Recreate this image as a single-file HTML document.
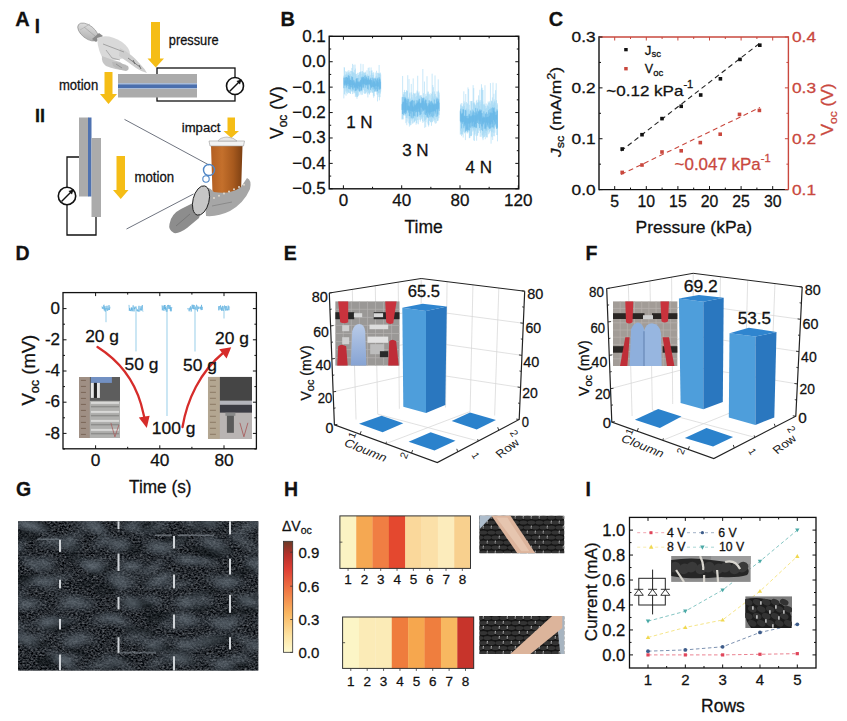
<!DOCTYPE html>
<html><head><meta charset="utf-8"><style>
html,body{margin:0;padding:0;background:#fff;}
body{width:847px;height:721px;overflow:hidden;}
svg text{font-family:"Liberation Sans", sans-serif;}
</style></head><body>
<svg width="847" height="721" viewBox="0 0 847 721" style="display:block;font-family:'Liberation Sans', sans-serif">
<rect width="847" height="721" fill="#fff"/>
<text x="15.3" y="25.6" font-size="20" font-weight="bold" fill="#111" stroke="#111" stroke-width="0.28">A</text>
<text x="34.8" y="33.2" font-size="20.5" font-weight="bold" textLength="5.2" lengthAdjust="spacingAndGlyphs" fill="#111" stroke="#111" stroke-width="0.28">I</text>
<text x="35" y="122" font-size="18" font-weight="bold" fill="#111" stroke="#111" stroke-width="0.28">II</text>
<polygon points="151.00,22.00 160.00,22.00 160.00,58.50 164.00,58.50 155.75,67.50 147.50,58.50 151.00,58.50" fill="#f5bd16" stroke="none" stroke-width="1"/>
<text x="168.8" y="44.8" font-size="14" textLength="49.8" lengthAdjust="spacingAndGlyphs" fill="#111" stroke="#111" stroke-width="0.28">pressure</text>
<polygon points="104.50,72.00 112.50,72.00 112.50,94.00 117.00,94.00 108.50,104.00 100.00,94.00 104.50,94.00" fill="#f5bd16" stroke="none" stroke-width="1"/>
<text x="58.9" y="89.7" font-size="14" textLength="39.3" lengthAdjust="spacingAndGlyphs" fill="#111" stroke="#111" stroke-width="0.28">motion</text>
<rect x="157" y="68" width="78" height="33" fill="none" stroke="#111" stroke-width="1.3"/>
<rect x="118.00" y="74.00" width="79.00" height="23.50" fill="#ababab"/>
<rect x="118.00" y="83.00" width="79.00" height="6.00" fill="#a9bcd8"/>
<rect x="118.00" y="84.50" width="79.00" height="3.50" fill="#4a6fae"/>
<circle cx="235" cy="86" r="8.5" fill="#fff" stroke="#111" stroke-width="1.6"/>
<line x1="229.50" y1="91.50" x2="240.00" y2="81.00" stroke="#111" stroke-width="1.5"/>
<polygon points="241.50,79.50 236.50,81.00 240.00,84.50" fill="#111" stroke="none" stroke-width="1"/>
<defs><linearGradient id="h1g" x1="0" y1="0" x2="1" y2="1"><stop offset="0" stop-color="#e6e6e6"/><stop offset="1" stop-color="#a9a9a9"/></linearGradient></defs>
<g stroke="#858585" stroke-width="0.6" stroke-linejoin="round">
<ellipse cx="88" cy="32" rx="12" ry="6.5" transform="rotate(38 88 32)" fill="url(#h1g)"/>
<polygon points="92.00,39.00 99.00,33.00 103.00,36.00 96.00,42.00" fill="#8a8a8a" stroke="none" stroke-width="1"/>
<path d="M97,38 Q108,33 122,42 Q130,48 130,54 L124,58 Q114,62 104,60 Q98,52 97,38 Z" fill="#d9d9d9" stroke="none" stroke-width="1"/>
<path d="M102,56 Q112,60 120,62 Q126,66 124,70 Q116,70 106,66 Q101,62 102,56 Z" fill="#c6c6c6" stroke="none" stroke-width="1"/>
<path d="M112,62 Q120,62 128,66 Q130,70 126,71 Q118,70 113,66 Z" fill="#b9b9b9" stroke="none" stroke-width="1"/>
<path d="M120,48 Q132,54 140,64 Q145,69 147,73 Q142,72 136,68 Q128,62 119,56 Z" fill="#cdcdcd" stroke="none" stroke-width="1"/>
</g>
<polyline points="103.00,44.00 124.00,52.00" fill="none" stroke="#8a8a8a" stroke-width="0.7"/>
<polyline points="128.00,58.00 140.00,67.00" fill="none" stroke="#666" stroke-width="0.7"/>
<polyline points="84.00,27.00 95.00,36.00" fill="none" stroke="#9a9a9a" stroke-width="0.6"/>
<polyline points="106.00,50.00 112.00,58.00 120.00,60.00" fill="none" stroke="#8a8a8a" stroke-width="0.6"/>
<polyline points="133.00,60.00 135.00,64.00" fill="none" stroke="#555" stroke-width="0.8"/>
<polyline points="139.00,65.00 141.00,69.00" fill="none" stroke="#555" stroke-width="0.8"/>
<polyline points="116.00,64.00 122.00,68.00" fill="none" stroke="#7a7a7a" stroke-width="0.6"/>
<polyline points="80.00,30.00 90.00,24.00" fill="none" stroke="#aaaaaa" stroke-width="0.6"/>
<rect x="79.00" y="117.50" width="9.50" height="79.00" fill="#ababab"/>
<rect x="88.00" y="117.50" width="3.50" height="79.00" fill="#4f72b0"/>
<rect x="91.50" y="138.00" width="9.50" height="79.00" fill="#ababab"/>
<polyline points="79.00,157.00 67.00,157.00 67.00,235.00 96.00,235.00 96.00,217.00" fill="none" stroke="#111" stroke-width="1.3"/>
<circle cx="67" cy="196" r="8.7" fill="#fff" stroke="#111" stroke-width="1.6"/>
<line x1="61.50" y1="201.50" x2="72.00" y2="191.00" stroke="#111" stroke-width="1.5"/>
<polygon points="73.50,189.50 68.50,191.00 72.00,194.50" fill="#111" stroke="none" stroke-width="1"/>
<polygon points="116.50,156.00 125.00,156.00 125.00,190.00 128.50,190.00 120.75,199.00 113.00,190.00 116.50,190.00" fill="#f5bd16" stroke="none" stroke-width="1"/>
<text x="134.5" y="181.7" font-size="13.8" textLength="39.6" lengthAdjust="spacingAndGlyphs" fill="#111" stroke="#111" stroke-width="0.28">motion</text>
<polygon points="227.50,117.50 235.00,117.50 235.00,131.00 239.00,131.00 231.25,138.00 223.50,131.00 227.50,131.00" fill="#f5bd16" stroke="none" stroke-width="1"/>
<text x="181.8" y="131.5" font-size="12.5" textLength="38.6" lengthAdjust="spacingAndGlyphs" fill="#111" stroke="#111" stroke-width="0.28">impact</text>
<line x1="124.50" y1="119.40" x2="209.00" y2="165.00" stroke="#4a5060" stroke-width="0.8"/>
<line x1="126.50" y1="229.00" x2="193.50" y2="194.00" stroke="#4a5060" stroke-width="0.8"/>
<defs><linearGradient id="cupg" x1="0" x2="1" y1="0" y2="0"><stop offset="0" stop-color="#b35f22"/><stop offset="0.35" stop-color="#c4702c"/><stop offset="0.7" stop-color="#a85a1e"/><stop offset="1" stop-color="#7d4013"/></linearGradient></defs>
<polygon points="211.00,145.50 242.50,145.50 241.00,193.50 212.50,193.50" fill="url(#cupg)" stroke="none" stroke-width="1"/>
<polygon points="209.00,141.00 244.50,141.00 243.50,146.00 210.00,146.00" fill="#f2f2f2" stroke="#9a9a9a" stroke-width="0.6"/>
<path d="M218,141 Q220,137.5 227,137 Q234,137.5 237,141 Z" fill="#e8e8e8" stroke="#a0a0a0" stroke-width="0.6"/>
<g stroke="#3a3a3a" stroke-width="0.7" stroke-linejoin="round">
<path d="M169.5,224 Q171,214 181,209 L195,202 Q203,209 199,218 L187,228 Q179,234 174,233 Q168,230 169.5,224 Z" fill="#8d8d8d" stroke="none" stroke-width="1"/>
<path d="M204,186 Q210,188 214,192 Q230,195 241,187 L247,178 Q252,180 250,189 Q244,203 230,211 Q218,217 206,216 Z" fill="#a6a6a6" stroke="none" stroke-width="1"/>
</g>
<ellipse cx="201" cy="200.5" rx="8" ry="15" transform="rotate(14 201 200.5)" fill="#c6c6c6" stroke="#1e1e1e" stroke-width="0.9"/>
<circle cx="214.0" cy="198.0" r="1" fill="#e0d8cc"/>
<circle cx="219.0" cy="195.8" r="1" fill="#e0d8cc"/>
<circle cx="224.0" cy="193.6" r="1" fill="#e0d8cc"/>
<circle cx="229.0" cy="191.4" r="1" fill="#e0d8cc"/>
<circle cx="234.0" cy="189.2" r="1" fill="#e0d8cc"/>
<circle cx="239.0" cy="187.0" r="1" fill="#e0d8cc"/>
<circle cx="244.0" cy="184.8" r="1" fill="#e0d8cc"/>
<polyline points="176.00,226.00 190.00,214.00" fill="none" stroke="#6a6a6a" stroke-width="0.6"/>
<polyline points="212.00,206.00 232.00,202.00" fill="none" stroke="#777" stroke-width="0.6"/>
<circle cx="209" cy="170" r="5.5" fill="none" stroke="#4f86c6" stroke-width="1.4"/>
<circle cx="206" cy="179" r="3.2" fill="none" stroke="#4f86c6" stroke-width="1.1"/>
<text x="280.5" y="25.7" font-size="20" font-weight="bold" fill="#111" stroke="#111" stroke-width="0.28">B</text>
<path d="M343.84,75.69V98.41M344.16,67.10V88.19M344.48,67.70V93.93M344.80,75.97V94.68M345.12,74.53V87.80M345.44,75.19V88.20M345.76,71.14V91.54M346.08,74.34V95.66M346.40,71.95V89.34M346.72,73.57V92.85M347.04,75.07V90.78M347.36,71.40V94.14M347.69,73.70V87.92M348.01,76.52V92.49M348.33,70.28V91.98M348.65,72.52V93.09M348.97,73.36V87.32M349.29,72.13V93.07M349.61,74.16V87.18M349.93,70.40V92.85M350.25,75.40V93.73M350.57,74.02V93.94M350.89,71.06V90.58M351.21,71.05V88.75M351.53,76.08V91.40M351.85,67.94V90.70M352.17,71.02V91.95M352.49,63.87V94.10M352.82,72.51V91.42M353.14,71.82V90.16M353.46,72.60V89.90M353.78,64.76V93.51M354.10,77.22V91.79M354.42,72.90V92.69M354.74,70.04V91.32M355.06,64.59V93.40M355.38,68.56V96.87M355.70,74.48V92.39M356.02,73.99V95.54M356.34,78.14V97.13M356.66,73.82V95.34M356.98,75.99V98.79M357.30,77.92V96.97M357.63,72.84V96.94M357.95,78.16V91.24M358.27,75.09V95.99M358.59,74.80V90.28M358.91,72.79V95.16M359.23,78.15V91.94M359.55,72.11V92.33M359.87,73.83V90.15M360.19,72.34V90.16M360.51,71.63V91.53M360.83,63.71V93.61M361.15,71.66V95.11M361.47,76.89V90.62M361.79,73.92V91.39M362.11,71.33V91.52M362.43,71.21V94.79M362.76,73.83V87.91M363.08,64.14V88.90M363.40,72.09V89.91M363.72,73.22V88.13M364.04,75.39V92.98M364.36,72.94V93.92M364.68,72.47V90.83M365.00,73.58V90.50M365.32,71.67V93.90M365.64,72.67V93.09M365.96,75.92V87.33M366.28,76.27V92.64M366.60,75.67V91.72M366.92,70.25V88.45M367.24,73.92V94.25M367.57,75.75V90.77M367.89,75.57V97.43M368.21,67.90V91.76M368.53,76.76V93.09M368.85,76.58V87.62M369.17,67.43V94.27M369.49,75.71V94.47M369.81,71.07V92.90M370.13,77.41V92.66M370.45,77.49V88.58M370.77,74.90V92.38M371.09,67.43V90.20M371.41,70.57V90.91M371.73,73.11V92.48M372.05,70.45V89.02M372.38,74.97V92.60M372.70,78.44V92.42M373.02,73.13V93.11M373.34,72.14V95.66M373.66,74.83V97.71M373.98,79.14V91.55M374.30,79.12V96.21M374.62,77.70V91.96M374.94,78.66V91.77M375.26,72.59V91.65M375.58,77.55V89.83M375.90,76.30V91.31M376.22,79.77V90.45M376.54,70.77V91.46M376.86,75.73V94.57M377.18,73.03V92.00M377.51,78.38V101.40M377.83,72.72V94.83M378.15,78.22V92.99M378.47,73.11V93.45M378.79,73.87V97.12M379.11,64.96V92.95M379.43,73.97V100.35M379.75,72.89V92.45M380.07,77.82V97.17M380.39,72.70V93.64M380.71,74.30V91.53" fill="none" stroke="#a3d8f5" stroke-width="0.6"/>
<path d="M343.84,77.55V88.18M344.27,78.02V84.60M344.71,80.59V85.48M345.15,77.05V85.60M345.59,77.85V83.60M346.02,80.54V85.05M346.46,76.99V87.55M346.90,76.87V84.96M347.34,77.69V85.97M347.77,77.94V83.78M348.21,75.55V84.29M348.65,75.11V88.91M349.08,80.56V86.01M349.52,76.16V89.28M349.96,78.37V85.05M350.40,79.87V89.42M350.83,80.04V87.34M351.27,80.63V87.18M351.71,76.30V84.95M352.14,77.26V87.52M352.58,77.12V88.96M353.02,81.02V90.40M353.46,79.81V85.18M353.89,82.73V88.30M354.33,80.42V87.32M354.77,82.34V87.76M355.21,81.51V91.00M355.64,83.39V90.57M356.08,78.80V86.74M356.52,78.37V90.50M356.95,78.54V87.89M357.39,81.51V88.53M357.83,77.96V89.72M358.27,81.47V88.64M358.70,81.84V86.18M359.14,82.68V90.94M359.58,81.50V91.41M360.02,81.52V87.06M360.45,79.85V86.39M360.89,80.41V90.95M361.33,77.32V89.82M361.76,78.51V90.23M362.20,76.55V87.73M362.64,77.57V84.40M363.08,77.28V86.69M363.51,76.98V87.70M363.95,79.41V83.81M364.39,75.67V84.15M364.83,78.09V85.37M365.26,78.98V87.74M365.70,75.11V84.69M366.14,76.88V84.92M366.57,77.43V85.50M367.01,79.66V84.09M367.45,79.50V88.80M367.89,77.99V84.63M368.32,75.83V89.60M368.76,78.54V84.42M369.20,80.17V84.30M369.63,79.53V84.51M370.07,80.32V85.76M370.51,78.69V89.90M370.95,77.91V87.18M371.38,80.02V88.10M371.82,80.45V87.16M372.26,82.43V86.99M372.70,77.54V86.24M373.13,80.32V89.55M373.57,78.46V87.13M374.01,81.90V87.45M374.44,81.27V88.78M374.88,78.23V91.35M375.32,78.71V86.23M375.76,83.41V90.50M376.19,78.53V88.99M376.63,80.19V85.97M377.07,81.18V91.63M377.51,78.61V91.06M377.94,77.63V87.11M378.38,82.28V86.35M378.82,79.76V89.43M379.25,77.20V89.46M379.69,78.62V89.51M380.13,79.46V87.95M380.57,81.58V89.16" fill="none" stroke="#5eb2e6" stroke-width="0.55"/>
<path d="M401.99,96.83V119.43M402.31,97.86V119.29M402.63,75.98V118.72M402.95,96.85V112.86M403.27,94.43V119.35M403.59,94.31V115.32M403.92,92.02V113.06M404.24,92.39V115.53M404.56,89.91V113.33M404.88,95.16V115.11M405.20,92.02V115.29M405.52,96.51V115.68M405.84,92.06V123.18M406.16,98.06V117.86M406.48,90.44V117.77M406.80,90.34V125.19M407.12,91.28V121.57M407.44,91.10V116.14M407.76,75.23V118.28M408.08,97.57V114.61M408.40,97.53V116.01M408.73,99.16V123.29M409.05,79.14V118.86M409.37,99.59V126.58M409.69,93.40V124.40M410.01,92.41V123.07M410.33,98.45V125.32M410.65,99.32V118.86M410.97,102.03V125.06M411.29,83.95V120.60M411.61,92.41V118.35M411.93,97.14V117.67M412.25,94.63V123.70M412.57,98.81V119.48M412.89,101.31V123.44M413.21,78.43V119.02M413.53,92.97V118.32M413.86,100.92V122.78M414.18,99.41V121.76M414.50,94.04V122.10M414.82,92.97V120.97M415.14,93.88V117.57M415.46,99.70V120.80M415.78,97.06V119.92M416.10,92.69V124.70M416.42,95.93V122.99M416.74,100.20V115.45M417.06,90.51V123.57M417.38,91.43V116.56M417.70,75.74V120.08M418.02,96.20V115.68M418.34,93.70V124.28M418.67,92.76V116.50M418.99,91.44V113.83M419.31,95.41V119.61M419.63,97.69V117.17M419.95,96.13V116.09M420.27,95.56V121.67M420.59,95.45V120.23M420.91,99.08V117.09M421.23,94.98V117.46M421.55,98.99V119.31M421.87,98.26V116.58M422.19,97.72V118.16M422.51,98.16V121.12M422.83,69.02V122.94M423.15,98.90V117.03M423.48,93.22V114.82M423.80,97.41V121.95M424.12,97.94V117.52M424.44,81.56V120.99M424.76,99.69V127.96M425.08,99.07V119.51M425.40,97.31V120.01M425.72,93.87V127.00M426.04,95.77V122.20M426.36,96.25V119.39M426.68,99.79V115.66M427.00,76.18V115.72M427.32,93.46V115.58M427.64,97.69V116.56M427.96,91.50V123.63M428.28,91.77V125.19M428.61,100.21V126.52M428.93,94.26V124.77M429.25,93.73V120.82M429.57,99.99V120.91M429.89,101.78V117.43M430.21,95.23V117.52M430.53,101.00V122.30M430.85,93.24V121.71M431.17,101.06V122.18M431.49,93.92V125.82M431.81,98.32V120.15M432.13,73.70V118.13M432.45,91.76V122.22M432.77,84.98V121.62M433.09,96.33V116.55M433.42,87.23V118.68M433.74,97.64V120.87M434.06,99.04V119.60M434.38,91.40V116.12M434.70,94.28V122.42M435.02,75.41V120.00M435.34,93.87V123.67M435.66,97.76V114.37M435.98,95.99V114.36M436.30,99.86V123.22M436.62,97.80V118.64M436.94,91.39V116.49M437.26,99.08V121.20M437.58,99.40V120.70M437.90,91.79V115.30M438.22,79.37V120.57M438.55,90.58V115.56M438.87,94.72V118.14M439.19,92.58V114.98" fill="none" stroke="#a3d8f5" stroke-width="0.6"/>
<path d="M401.99,104.20V109.94M402.43,102.45V114.00M402.87,97.00V114.00M403.30,101.75V115.15M403.74,101.78V109.74M404.18,97.42V113.15M404.61,99.18V113.56M405.05,97.12V112.03M405.49,98.36V114.14M405.93,98.41V112.11M406.36,99.63V113.44M406.80,103.04V110.61M407.24,100.85V109.69M407.68,98.87V110.49M408.11,105.87V110.39M408.55,99.18V112.64M408.99,105.42V110.16M409.42,106.38V116.00M409.86,102.01V116.21M410.30,101.37V110.98M410.74,102.60V113.63M411.17,100.95V117.60M411.61,100.44V111.24M412.05,100.64V118.48M412.49,100.04V111.59M412.92,105.65V111.59M413.36,106.88V117.77M413.80,100.81V115.84M414.23,100.57V115.68M414.67,104.52V110.98M415.11,105.79V116.39M415.55,104.76V112.46M415.98,102.87V109.70M416.42,103.92V111.70M416.86,100.18V112.20M417.30,102.98V117.05M417.73,101.36V115.87M418.17,100.27V108.68M418.61,101.66V111.94M419.04,98.73V111.01M419.48,99.11V112.49M419.92,102.73V115.14M420.36,103.61V114.69M420.79,102.95V107.67M421.23,102.69V114.13M421.67,96.76V107.70M422.10,100.54V111.90M422.54,98.28V109.37M422.98,100.71V110.86M423.42,98.27V110.27M423.85,97.58V110.63M424.29,103.35V114.36M424.73,101.39V109.55M425.17,100.55V109.52M425.60,99.61V114.99M426.04,99.85V114.63M426.48,103.38V112.93M426.91,103.30V117.31M427.35,105.87V117.50M427.79,106.52V111.88M428.23,104.87V117.96M428.66,103.19V113.66M429.10,100.37V112.53M429.54,103.69V115.15M429.98,101.49V117.09M430.41,102.34V113.66M430.85,104.77V112.00M431.29,100.76V116.26M431.72,101.45V111.98M432.16,103.66V117.01M432.60,102.44V111.35M433.04,103.17V117.65M433.47,104.69V111.55M433.91,104.00V115.70M434.35,99.63V110.81M434.79,104.67V111.38M435.22,103.13V113.49M435.66,104.18V111.61M436.10,103.74V116.90M436.53,99.40V109.26M436.97,97.43V109.07M437.41,101.69V116.42M437.85,98.40V114.14M438.28,101.05V109.46M438.72,99.41V108.62M439.16,102.67V110.97" fill="none" stroke="#5eb2e6" stroke-width="0.55"/>
<path d="M460.29,109.86V134.55M460.61,104.66V130.93M460.93,103.62V134.25M461.25,105.75V134.49M461.57,108.21V136.14M461.89,102.98V134.01M462.22,105.96V133.59M462.54,106.52V134.73M462.86,108.63V131.95M463.18,106.97V137.54M463.50,104.33V131.51M463.82,91.32V129.06M464.14,101.36V128.52M464.46,106.06V133.36M464.78,102.89V132.32M465.10,110.08V132.22M465.42,111.18V140.09M465.74,94.01V132.72M466.06,108.69V130.54M466.38,102.02V130.52M466.70,108.31V129.52M467.03,103.54V133.42M467.35,110.21V132.08M467.67,103.40V133.37M467.99,87.43V132.03M468.31,109.60V130.81M468.63,89.08V131.05M468.95,109.03V132.64M469.27,104.84V138.25M469.59,111.60V137.86M469.91,110.51V137.62M470.23,101.09V130.08M470.55,110.19V135.95M470.87,109.91V135.96M471.19,101.30V135.68M471.51,101.10V136.17M471.83,103.24V134.90M472.16,100.90V129.27M472.48,109.24V126.75M472.80,109.02V131.62M473.12,85.12V131.13M473.44,102.77V129.92M473.76,88.11V140.32M474.08,102.33V129.17M474.40,104.19V140.92M474.72,102.79V135.05M475.04,104.44V133.93M475.36,104.84V131.40M475.68,106.43V129.64M476.00,106.65V136.16M476.32,100.70V128.63M476.64,103.07V140.70M476.97,99.68V125.63M477.29,109.79V135.65M477.61,102.41V135.59M477.93,102.96V133.23M478.25,102.33V133.00M478.57,95.39V125.91M478.89,99.91V129.83M479.21,101.51V128.70M479.53,105.83V130.83M479.85,89.78V126.51M480.17,101.70V136.73M480.49,110.97V133.16M480.81,100.09V131.27M481.13,104.10V136.92M481.45,84.22V127.89M481.78,88.33V129.82M482.10,87.61V135.36M482.42,90.09V135.46M482.74,101.57V138.51M483.06,89.99V140.15M483.38,104.13V137.57M483.70,111.88V134.39M484.02,104.91V137.02M484.34,105.34V132.74M484.66,103.77V136.99M484.98,85.25V136.09M485.30,109.01V139.23M485.62,105.92V132.95M485.94,108.46V134.91M486.26,103.49V128.00M486.58,107.84V137.25M486.91,112.11V137.13M487.23,105.96V137.48M487.55,104.56V131.61M487.87,105.94V129.81M488.19,101.48V134.33M488.51,106.67V130.15M488.83,102.78V128.09M489.15,102.85V133.56M489.47,101.39V132.22M489.79,109.19V128.67M490.11,107.03V131.03M490.43,83.10V130.54M490.75,103.61V127.89M491.07,106.75V143.66M491.39,100.64V132.28M491.72,101.49V136.48M492.04,100.90V137.22M492.36,97.39V131.77M492.68,104.80V140.02M493.00,82.65V128.14M493.32,102.55V132.79M493.64,104.69V136.12M493.96,93.74V129.06M494.28,99.41V125.55M494.60,101.64V136.28M494.92,101.14V132.76M495.24,103.04V126.26M495.56,90.20V127.03M495.88,108.28V125.32M496.20,83.21V127.78M496.52,100.19V126.96M496.85,109.11V135.10M497.17,105.17V135.01M497.49,103.30V141.34" fill="none" stroke="#a3d8f5" stroke-width="0.6"/>
<path d="M460.29,111.22V121.16M460.73,108.68V122.50M461.17,112.82V121.64M461.60,114.24V128.38M462.04,113.91V122.20M462.48,112.80V123.86M462.91,109.49V122.14M463.35,109.07V121.82M463.79,110.00V127.86M464.23,116.06V126.23M464.66,115.59V124.32M465.10,116.47V125.49M465.54,109.83V131.65M465.98,110.49V123.17M466.41,116.01V130.84M466.85,118.03V129.26M467.29,116.00V131.66M467.72,118.34V129.98M468.16,115.48V123.56M468.60,118.29V130.05M469.04,113.66V123.76M469.47,114.28V130.52M469.91,115.96V127.09M470.35,116.45V123.17M470.79,110.81V128.02M471.22,115.51V121.77M471.66,116.22V126.58M472.10,112.49V123.17M472.53,114.75V126.17M472.97,110.24V127.86M473.41,111.11V121.86M473.85,115.38V126.74M474.28,112.29V126.48M474.72,115.19V127.20M475.16,112.69V127.40M475.60,108.09V124.02M476.03,115.34V127.96M476.47,111.39V127.60M476.91,113.24V121.10M477.34,108.46V122.90M477.78,114.29V123.05M478.22,110.73V119.69M478.66,111.53V124.05M479.09,111.75V121.13M479.53,110.24V127.97M479.97,109.16V123.46M480.40,110.71V124.26M480.84,110.59V121.43M481.28,109.78V130.17M481.72,113.24V126.19M482.15,113.15V126.63M482.59,117.71V130.92M483.03,116.15V123.62M483.47,117.34V124.42M483.90,111.33V122.44M484.34,117.61V128.91M484.78,116.82V122.48M485.21,113.38V127.83M485.65,114.03V129.02M486.09,117.59V130.57M486.53,112.25V122.64M486.96,117.24V126.81M487.40,113.86V124.64M487.84,116.95V125.68M488.28,116.64V127.27M488.71,110.23V122.83M489.15,112.48V128.33M489.59,115.76V128.86M490.02,108.90V124.46M490.46,113.11V128.53M490.90,111.99V124.08M491.34,108.21V127.50M491.77,113.19V122.20M492.21,113.05V123.88M492.65,107.35V127.25M493.09,107.82V127.23M493.52,108.29V119.88M493.96,111.06V128.44M494.40,107.46V121.66M494.83,111.86V125.33M495.27,112.40V124.40M495.71,115.01V123.54M496.15,111.38V119.72M496.58,114.65V128.90M497.02,109.35V128.75M497.46,110.76V127.72" fill="none" stroke="#5eb2e6" stroke-width="0.55"/>
<rect x="329.2" y="36.3" width="189.59999999999997" height="152.5" fill="none" stroke="#111" stroke-width="1.4"/>
<line x1="329.20" y1="36.30" x2="332.70" y2="36.30" stroke="#111" stroke-width="1"/>
<line x1="518.80" y1="36.30" x2="515.30" y2="36.30" stroke="#111" stroke-width="1"/>
<line x1="329.20" y1="49.01" x2="331.20" y2="49.01" stroke="#111" stroke-width="1"/>
<line x1="518.80" y1="49.01" x2="516.80" y2="49.01" stroke="#111" stroke-width="1"/>
<line x1="329.20" y1="61.72" x2="332.70" y2="61.72" stroke="#111" stroke-width="1"/>
<line x1="518.80" y1="61.72" x2="515.30" y2="61.72" stroke="#111" stroke-width="1"/>
<line x1="329.20" y1="74.43" x2="331.20" y2="74.43" stroke="#111" stroke-width="1"/>
<line x1="518.80" y1="74.43" x2="516.80" y2="74.43" stroke="#111" stroke-width="1"/>
<line x1="329.20" y1="87.13" x2="332.70" y2="87.13" stroke="#111" stroke-width="1"/>
<line x1="518.80" y1="87.13" x2="515.30" y2="87.13" stroke="#111" stroke-width="1"/>
<line x1="329.20" y1="99.84" x2="331.20" y2="99.84" stroke="#111" stroke-width="1"/>
<line x1="518.80" y1="99.84" x2="516.80" y2="99.84" stroke="#111" stroke-width="1"/>
<line x1="329.20" y1="112.55" x2="332.70" y2="112.55" stroke="#111" stroke-width="1"/>
<line x1="518.80" y1="112.55" x2="515.30" y2="112.55" stroke="#111" stroke-width="1"/>
<line x1="329.20" y1="125.26" x2="331.20" y2="125.26" stroke="#111" stroke-width="1"/>
<line x1="518.80" y1="125.26" x2="516.80" y2="125.26" stroke="#111" stroke-width="1"/>
<line x1="329.20" y1="137.97" x2="332.70" y2="137.97" stroke="#111" stroke-width="1"/>
<line x1="518.80" y1="137.97" x2="515.30" y2="137.97" stroke="#111" stroke-width="1"/>
<line x1="329.20" y1="150.68" x2="331.20" y2="150.68" stroke="#111" stroke-width="1"/>
<line x1="518.80" y1="150.68" x2="516.80" y2="150.68" stroke="#111" stroke-width="1"/>
<line x1="329.20" y1="163.38" x2="332.70" y2="163.38" stroke="#111" stroke-width="1"/>
<line x1="518.80" y1="163.38" x2="515.30" y2="163.38" stroke="#111" stroke-width="1"/>
<line x1="329.20" y1="176.09" x2="331.20" y2="176.09" stroke="#111" stroke-width="1"/>
<line x1="518.80" y1="176.09" x2="516.80" y2="176.09" stroke="#111" stroke-width="1"/>
<line x1="329.20" y1="188.80" x2="332.70" y2="188.80" stroke="#111" stroke-width="1"/>
<line x1="518.80" y1="188.80" x2="515.30" y2="188.80" stroke="#111" stroke-width="1"/>
<text x="325.8" y="41.8" font-size="17" text-anchor="end" fill="#111" stroke="#111" stroke-width="0.28">0.1</text>
<text x="325.8" y="67.21666666666667" font-size="17" text-anchor="end" fill="#111" stroke="#111" stroke-width="0.28">0.0</text>
<text x="325.8" y="92.63333333333333" font-size="17" text-anchor="end" fill="#111" stroke="#111" stroke-width="0.28">−0.1</text>
<text x="325.8" y="118.05000000000001" font-size="17" text-anchor="end" fill="#111" stroke="#111" stroke-width="0.28">−0.2</text>
<text x="325.8" y="143.46666666666667" font-size="17" text-anchor="end" fill="#111" stroke="#111" stroke-width="0.28">−0.3</text>
<text x="325.8" y="168.88333333333333" font-size="17" text-anchor="end" fill="#111" stroke="#111" stroke-width="0.28">−0.4</text>
<text x="325.8" y="194.3" font-size="17" text-anchor="end" fill="#111" stroke="#111" stroke-width="0.28">−0.5</text>
<line x1="343.40" y1="188.80" x2="343.40" y2="185.30" stroke="#111" stroke-width="1"/>
<line x1="343.40" y1="36.30" x2="343.40" y2="39.80" stroke="#111" stroke-width="1"/>
<line x1="372.55" y1="188.80" x2="372.55" y2="186.80" stroke="#111" stroke-width="1"/>
<line x1="372.55" y1="36.30" x2="372.55" y2="38.30" stroke="#111" stroke-width="1"/>
<line x1="401.70" y1="188.80" x2="401.70" y2="185.30" stroke="#111" stroke-width="1"/>
<line x1="401.70" y1="36.30" x2="401.70" y2="39.80" stroke="#111" stroke-width="1"/>
<line x1="430.85" y1="188.80" x2="430.85" y2="186.80" stroke="#111" stroke-width="1"/>
<line x1="430.85" y1="36.30" x2="430.85" y2="38.30" stroke="#111" stroke-width="1"/>
<line x1="460.00" y1="188.80" x2="460.00" y2="185.30" stroke="#111" stroke-width="1"/>
<line x1="460.00" y1="36.30" x2="460.00" y2="39.80" stroke="#111" stroke-width="1"/>
<line x1="489.15" y1="188.80" x2="489.15" y2="186.80" stroke="#111" stroke-width="1"/>
<line x1="489.15" y1="36.30" x2="489.15" y2="38.30" stroke="#111" stroke-width="1"/>
<line x1="518.30" y1="188.80" x2="518.30" y2="185.30" stroke="#111" stroke-width="1"/>
<line x1="518.30" y1="36.30" x2="518.30" y2="39.80" stroke="#111" stroke-width="1"/>
<text x="343.4" y="206.2" font-size="17" text-anchor="middle" fill="#111" stroke="#111" stroke-width="0.28">0</text>
<text x="401.7" y="206.2" font-size="17" text-anchor="middle" fill="#111" stroke="#111" stroke-width="0.28">40</text>
<text x="459.99999999999994" y="206.2" font-size="17" text-anchor="middle" fill="#111" stroke="#111" stroke-width="0.28">80</text>
<text x="518.3" y="206.2" font-size="17" text-anchor="middle" fill="#111" stroke="#111" stroke-width="0.28">120</text>
<text x="423.6" y="232.8" font-size="17.5" text-anchor="middle" fill="#111" stroke="#111" stroke-width="0.28">Time</text>
<text x="346.2" y="128.3" font-size="17" fill="#111" stroke="#111" stroke-width="0.28">1 N</text>
<text x="402.2" y="156.3" font-size="17" fill="#111" stroke="#111" stroke-width="0.28">3 N</text>
<text x="465.5" y="172.6" font-size="17" fill="#111" stroke="#111" stroke-width="0.28">4 N</text>
<text transform="translate(283.3 139) rotate(-90)" font-size="17.5" fill="#111" stroke="#111" stroke-width="0.28">V<tspan font-size="12" dy="4">oc</tspan><tspan dy="-4"> (V)</tspan></text>
<text x="548.8" y="26.3" font-size="20" font-weight="bold" fill="#111" stroke="#111" stroke-width="0.28">C</text>
<line x1="621.00" y1="151.00" x2="760.00" y2="43.00" stroke="#222" stroke-width="1.1" stroke-dasharray="5,3.5"/>
<line x1="621.00" y1="174.50" x2="760.00" y2="107.50" stroke="#c9483e" stroke-width="1.1" stroke-dasharray="5,3.5"/>
<rect x="620.40" y="147.20" width="3.60" height="3.60" fill="#111"/>
<rect x="640.20" y="132.90" width="3.60" height="3.60" fill="#111"/>
<rect x="660.20" y="116.80" width="3.60" height="3.60" fill="#111"/>
<rect x="679.40" y="104.50" width="3.60" height="3.60" fill="#111"/>
<rect x="698.90" y="93.20" width="3.60" height="3.60" fill="#111"/>
<rect x="718.60" y="77.00" width="3.60" height="3.60" fill="#111"/>
<rect x="738.20" y="57.60" width="3.60" height="3.60" fill="#111"/>
<rect x="758.00" y="43.40" width="3.60" height="3.60" fill="#111"/>
<rect x="620.40" y="170.60" width="3.60" height="3.60" fill="#c9483e"/>
<rect x="640.20" y="163.20" width="3.60" height="3.60" fill="#c9483e"/>
<rect x="660.20" y="150.20" width="3.60" height="3.60" fill="#c9483e"/>
<rect x="679.40" y="149.00" width="3.60" height="3.60" fill="#c9483e"/>
<rect x="698.50" y="140.80" width="3.60" height="3.60" fill="#c9483e"/>
<rect x="718.40" y="132.40" width="3.60" height="3.60" fill="#c9483e"/>
<rect x="737.70" y="112.60" width="3.60" height="3.60" fill="#c9483e"/>
<rect x="757.60" y="108.60" width="3.60" height="3.60" fill="#c9483e"/>
<line x1="599.00" y1="189.60" x2="788.40" y2="189.60" stroke="#111" stroke-width="1.4"/>
<line x1="599.00" y1="36.30" x2="599.00" y2="190.30" stroke="#111" stroke-width="1.4"/>
<line x1="599.00" y1="37.00" x2="788.40" y2="37.00" stroke="#c9483e" stroke-width="1.4"/>
<line x1="788.40" y1="36.30" x2="788.40" y2="189.60" stroke="#c9483e" stroke-width="1.4"/>
<line x1="599.00" y1="189.60" x2="602.50" y2="189.60" stroke="#111" stroke-width="1"/>
<line x1="788.40" y1="189.60" x2="784.90" y2="189.60" stroke="#c9483e" stroke-width="1"/>
<line x1="599.00" y1="164.17" x2="601.00" y2="164.17" stroke="#111" stroke-width="1"/>
<line x1="788.40" y1="164.17" x2="786.40" y2="164.17" stroke="#c9483e" stroke-width="1"/>
<line x1="599.00" y1="138.73" x2="602.50" y2="138.73" stroke="#111" stroke-width="1"/>
<line x1="788.40" y1="138.73" x2="784.90" y2="138.73" stroke="#c9483e" stroke-width="1"/>
<line x1="599.00" y1="113.30" x2="601.00" y2="113.30" stroke="#111" stroke-width="1"/>
<line x1="788.40" y1="113.30" x2="786.40" y2="113.30" stroke="#c9483e" stroke-width="1"/>
<line x1="599.00" y1="87.87" x2="602.50" y2="87.87" stroke="#111" stroke-width="1"/>
<line x1="788.40" y1="87.87" x2="784.90" y2="87.87" stroke="#c9483e" stroke-width="1"/>
<line x1="599.00" y1="62.43" x2="601.00" y2="62.43" stroke="#111" stroke-width="1"/>
<line x1="788.40" y1="62.43" x2="786.40" y2="62.43" stroke="#c9483e" stroke-width="1"/>
<line x1="599.00" y1="37.00" x2="602.50" y2="37.00" stroke="#111" stroke-width="1"/>
<line x1="788.40" y1="37.00" x2="784.90" y2="37.00" stroke="#c9483e" stroke-width="1"/>
<line x1="614.70" y1="189.60" x2="614.70" y2="186.10" stroke="#111" stroke-width="1"/>
<line x1="614.70" y1="37.00" x2="614.70" y2="40.50" stroke="#c9483e" stroke-width="1"/>
<line x1="630.50" y1="189.60" x2="630.50" y2="187.60" stroke="#111" stroke-width="1"/>
<line x1="630.50" y1="37.00" x2="630.50" y2="39.00" stroke="#c9483e" stroke-width="1"/>
<line x1="646.30" y1="189.60" x2="646.30" y2="186.10" stroke="#111" stroke-width="1"/>
<line x1="646.30" y1="37.00" x2="646.30" y2="40.50" stroke="#c9483e" stroke-width="1"/>
<line x1="662.10" y1="189.60" x2="662.10" y2="187.60" stroke="#111" stroke-width="1"/>
<line x1="662.10" y1="37.00" x2="662.10" y2="39.00" stroke="#c9483e" stroke-width="1"/>
<line x1="677.90" y1="189.60" x2="677.90" y2="186.10" stroke="#111" stroke-width="1"/>
<line x1="677.90" y1="37.00" x2="677.90" y2="40.50" stroke="#c9483e" stroke-width="1"/>
<line x1="693.70" y1="189.60" x2="693.70" y2="187.60" stroke="#111" stroke-width="1"/>
<line x1="693.70" y1="37.00" x2="693.70" y2="39.00" stroke="#c9483e" stroke-width="1"/>
<line x1="709.50" y1="189.60" x2="709.50" y2="186.10" stroke="#111" stroke-width="1"/>
<line x1="709.50" y1="37.00" x2="709.50" y2="40.50" stroke="#c9483e" stroke-width="1"/>
<line x1="725.30" y1="189.60" x2="725.30" y2="187.60" stroke="#111" stroke-width="1"/>
<line x1="725.30" y1="37.00" x2="725.30" y2="39.00" stroke="#c9483e" stroke-width="1"/>
<line x1="741.10" y1="189.60" x2="741.10" y2="186.10" stroke="#111" stroke-width="1"/>
<line x1="741.10" y1="37.00" x2="741.10" y2="40.50" stroke="#c9483e" stroke-width="1"/>
<line x1="756.90" y1="189.60" x2="756.90" y2="187.60" stroke="#111" stroke-width="1"/>
<line x1="756.90" y1="37.00" x2="756.90" y2="39.00" stroke="#c9483e" stroke-width="1"/>
<line x1="772.70" y1="189.60" x2="772.70" y2="186.10" stroke="#111" stroke-width="1"/>
<line x1="772.70" y1="37.00" x2="772.70" y2="40.50" stroke="#c9483e" stroke-width="1"/>
<text transform="translate(595.6 194.6) scale(1.2 1)" font-size="14.4" text-anchor="end" fill="#111" stroke="#111" stroke-width="0.28">0.0</text>
<text transform="translate(595.6 143.73333333333332) scale(1.2 1)" font-size="14.4" text-anchor="end" fill="#111" stroke="#111" stroke-width="0.28">0.1</text>
<text transform="translate(595.6 92.86666666666666) scale(1.2 1)" font-size="14.4" text-anchor="end" fill="#111" stroke="#111" stroke-width="0.28">0.2</text>
<text transform="translate(595.6 41.99999999999997) scale(1.2 1)" font-size="14.4" text-anchor="end" fill="#111" stroke="#111" stroke-width="0.28">0.3</text>
<text transform="translate(792.0 194.6) scale(1.2 1)" font-size="14.4" fill="#c9483e" stroke="#c9483e" stroke-width="0.28">0.1</text>
<text transform="translate(792.0 143.73333333333332) scale(1.2 1)" font-size="14.4" fill="#c9483e" stroke="#c9483e" stroke-width="0.28">0.2</text>
<text transform="translate(792.0 92.86666666666666) scale(1.2 1)" font-size="14.4" fill="#c9483e" stroke="#c9483e" stroke-width="0.28">0.3</text>
<text transform="translate(792.0 41.99999999999997) scale(1.2 1)" font-size="14.4" fill="#c9483e" stroke="#c9483e" stroke-width="0.28">0.4</text>
<text x="614.7" y="206.6" font-size="15.8" text-anchor="middle" fill="#111" stroke="#111" stroke-width="0.28">5</text>
<text x="646.3000000000001" y="206.6" font-size="15.8" text-anchor="middle" fill="#111" stroke="#111" stroke-width="0.28">10</text>
<text x="677.9000000000001" y="206.6" font-size="15.8" text-anchor="middle" fill="#111" stroke="#111" stroke-width="0.28">15</text>
<text x="709.5" y="206.6" font-size="15.8" text-anchor="middle" fill="#111" stroke="#111" stroke-width="0.28">20</text>
<text x="741.1" y="206.6" font-size="15.8" text-anchor="middle" fill="#111" stroke="#111" stroke-width="0.28">25</text>
<text x="772.7" y="206.6" font-size="15.8" text-anchor="middle" fill="#111" stroke="#111" stroke-width="0.28">30</text>
<text transform="translate(693.8 232.9) scale(1.055 1)" font-size="16.6" text-anchor="middle" fill="#111" stroke="#111" stroke-width="0.28">Pressure (kPa)</text>
<rect x="624.20" y="48.00" width="3.50" height="3.30" fill="#111"/>
<rect x="624.20" y="67.00" width="3.50" height="3.40" fill="#c9483e"/>
<text x="644.8" y="54.8" font-size="13.3" fill="#111" stroke="#111" stroke-width="0.28">J<tspan font-size="9.5" dy="2.4">sc</tspan></text>
<text x="644.8" y="73.1" font-size="12.5" fill="#111" stroke="#111" stroke-width="0.28">V<tspan font-size="9.5" dy="3.2">oc</tspan></text>
<text transform="translate(606.3 95.5) scale(1.12 1)" font-size="15.2" fill="#111" stroke="#111" stroke-width="0.28">~0.12 kPa<tspan font-size="10" dy="-7.5">-1</tspan></text>
<text transform="translate(674.6 170.4) scale(1.06 1)" font-size="16" fill="#c9483e" stroke="#c9483e" stroke-width="0.28">~0.047 kPa<tspan font-size="10.5" dy="-8">-1</tspan></text>
<text transform="translate(561 157) rotate(-90) scale(1.2 1)" font-size="14.5" fill="#111" stroke="#111" stroke-width="0.28"><tspan font-style="italic">J</tspan><tspan font-size="10.5" dy="3">sc</tspan><tspan dy="-3"> (mA/m</tspan><tspan font-size="10.5" dy="-6">2</tspan><tspan dy="6">)</tspan></text>
<text transform="translate(833.3 135.6) rotate(-90) scale(1.05 1)" font-size="16.5" fill="#c9483e" stroke="#c9483e" stroke-width="0.28">V<tspan font-size="11.5" dy="4">oc</tspan><tspan dy="-4"> (V)</tspan></text>
<text x="15.5" y="259.7" font-size="19.5" font-weight="bold" fill="#111" stroke="#111" stroke-width="0.28">D</text>
<polyline points="102.00,306.37 102.33,308.51 102.67,307.29 103.00,308.93 103.33,309.08 103.67,305.16 104.00,304.79 104.33,310.56 104.67,306.52 105.00,306.34 105.33,311.67 105.67,307.99 106.00,310.56 106.33,308.03 106.67,309.17 107.00,305.75 107.33,309.14 107.67,310.78 108.00,308.36 108.33,309.89 108.67,309.40 109.00,305.15 109.33,310.01 109.67,308.84 110.00,306.81" fill="none" stroke="#5eb0e0" stroke-width="0.7"/>
<line x1="106.00" y1="306.00" x2="106.00" y2="322.20" stroke="#92cbe8" stroke-width="0.95"/>
<polyline points="129.00,304.92 129.33,310.76 129.67,308.01 130.00,309.73 130.33,310.85 130.67,309.70 131.00,311.15 131.33,307.46 131.67,310.31 132.00,307.81 132.33,311.25 132.67,310.85 133.00,305.38 133.33,305.65 133.67,306.22 134.00,311.46 134.33,307.75 134.67,309.09 135.00,306.81 135.33,308.25 135.67,307.40 136.00,307.16 136.33,308.80 136.67,308.79 137.00,311.03 137.33,309.47 137.67,311.20 138.00,310.69 138.33,311.64 138.67,309.40 139.00,305.84 139.33,310.72 139.67,311.45 140.00,311.03 140.33,308.68 140.67,309.70 141.00,306.18 141.33,310.52 141.67,308.71 142.00,306.69 142.33,305.14 142.67,310.68 143.00,311.63" fill="none" stroke="#5eb0e0" stroke-width="0.7"/>
<line x1="136.00" y1="306.00" x2="136.00" y2="351.40" stroke="#92cbe8" stroke-width="0.95"/>
<polyline points="162.00,305.32 162.33,310.30 162.67,307.57 163.00,305.76 163.33,306.76 163.67,310.08 164.00,310.81 164.33,305.01 164.67,309.00 165.00,305.01 165.33,309.73 165.67,307.02 166.00,310.87 166.33,311.56 166.67,308.24 167.00,311.69 167.33,306.87 167.67,305.24 168.00,308.90 168.33,304.92 168.67,306.08 169.00,307.56 169.33,308.97 169.67,305.79 170.00,305.00 170.33,310.77 170.67,306.90 171.00,311.41 171.33,310.98 171.67,307.34 172.00,307.92" fill="none" stroke="#5eb0e0" stroke-width="0.7"/>
<line x1="167.00" y1="306.00" x2="167.00" y2="416.00" stroke="#92cbe8" stroke-width="0.95"/>
<polyline points="187.50,308.34 187.83,309.21 188.17,308.87 188.50,308.61 188.83,309.04 189.17,311.28 189.50,308.25 189.83,307.72 190.17,309.74 190.50,306.36 190.83,306.81 191.17,311.54 191.50,308.35 191.83,308.54 192.17,304.78 192.50,307.61 192.83,308.76 193.17,304.84 193.50,309.01 193.83,309.13 194.17,305.12 194.50,309.09 194.83,307.96 195.17,309.45 195.50,307.17 195.83,309.65 196.17,309.87 196.50,304.86 196.83,305.12 197.17,309.43 197.50,311.44 197.83,306.46 198.17,307.89 198.50,308.85 198.83,306.94 199.17,307.25 199.50,306.89 199.83,307.28 200.17,308.87 200.50,306.80 200.83,307.34 201.17,310.11 201.50,304.89 201.83,308.68 202.17,309.85 202.50,306.87" fill="none" stroke="#5eb0e0" stroke-width="0.7"/>
<line x1="195.00" y1="306.00" x2="195.00" y2="351.50" stroke="#92cbe8" stroke-width="0.95"/>
<polyline points="218.50,306.26 218.83,310.33 219.17,306.37 219.50,306.01 219.83,307.75 220.17,309.59 220.50,305.41 220.83,306.95 221.17,307.04 221.50,310.53 221.83,307.77 222.17,310.69 222.50,305.88 222.83,307.06 223.17,309.25 223.50,310.89 223.83,307.86 224.17,306.28 224.50,305.55 224.83,308.41 225.17,306.04 225.50,310.35 225.83,310.57 226.17,305.99 226.50,306.65 226.83,310.35 227.17,309.19 227.50,310.34 227.83,307.12 228.17,305.61 228.50,306.74 228.83,310.26 229.17,306.60 229.50,307.12" fill="none" stroke="#5eb0e0" stroke-width="0.7"/>
<line x1="224.00" y1="306.00" x2="224.00" y2="318.50" stroke="#92cbe8" stroke-width="0.95"/>
<rect x="63" y="292.6" width="193.39999999999998" height="156.2" fill="none" stroke="#111" stroke-width="1.3"/>
<line x1="63.00" y1="308.60" x2="66.50" y2="308.60" stroke="#111" stroke-width="1"/>
<line x1="256.40" y1="308.60" x2="252.90" y2="308.60" stroke="#111" stroke-width="1"/>
<line x1="63.00" y1="324.20" x2="65.00" y2="324.20" stroke="#111" stroke-width="1"/>
<line x1="256.40" y1="324.20" x2="254.40" y2="324.20" stroke="#111" stroke-width="1"/>
<line x1="63.00" y1="339.80" x2="66.50" y2="339.80" stroke="#111" stroke-width="1"/>
<line x1="256.40" y1="339.80" x2="252.90" y2="339.80" stroke="#111" stroke-width="1"/>
<line x1="63.00" y1="355.40" x2="65.00" y2="355.40" stroke="#111" stroke-width="1"/>
<line x1="256.40" y1="355.40" x2="254.40" y2="355.40" stroke="#111" stroke-width="1"/>
<line x1="63.00" y1="371.00" x2="66.50" y2="371.00" stroke="#111" stroke-width="1"/>
<line x1="256.40" y1="371.00" x2="252.90" y2="371.00" stroke="#111" stroke-width="1"/>
<line x1="63.00" y1="386.60" x2="65.00" y2="386.60" stroke="#111" stroke-width="1"/>
<line x1="256.40" y1="386.60" x2="254.40" y2="386.60" stroke="#111" stroke-width="1"/>
<line x1="63.00" y1="402.20" x2="66.50" y2="402.20" stroke="#111" stroke-width="1"/>
<line x1="256.40" y1="402.20" x2="252.90" y2="402.20" stroke="#111" stroke-width="1"/>
<line x1="63.00" y1="417.80" x2="65.00" y2="417.80" stroke="#111" stroke-width="1"/>
<line x1="256.40" y1="417.80" x2="254.40" y2="417.80" stroke="#111" stroke-width="1"/>
<line x1="63.00" y1="433.40" x2="66.50" y2="433.40" stroke="#111" stroke-width="1"/>
<line x1="256.40" y1="433.40" x2="252.90" y2="433.40" stroke="#111" stroke-width="1"/>
<line x1="63.00" y1="449.00" x2="65.00" y2="449.00" stroke="#111" stroke-width="1"/>
<line x1="256.40" y1="449.00" x2="254.40" y2="449.00" stroke="#111" stroke-width="1"/>
<line x1="95.60" y1="448.80" x2="95.60" y2="445.30" stroke="#111" stroke-width="1"/>
<line x1="95.60" y1="292.60" x2="95.60" y2="296.10" stroke="#111" stroke-width="1"/>
<line x1="127.70" y1="448.80" x2="127.70" y2="446.80" stroke="#111" stroke-width="1"/>
<line x1="127.70" y1="292.60" x2="127.70" y2="294.60" stroke="#111" stroke-width="1"/>
<line x1="159.80" y1="448.80" x2="159.80" y2="445.30" stroke="#111" stroke-width="1"/>
<line x1="159.80" y1="292.60" x2="159.80" y2="296.10" stroke="#111" stroke-width="1"/>
<line x1="191.90" y1="448.80" x2="191.90" y2="446.80" stroke="#111" stroke-width="1"/>
<line x1="191.90" y1="292.60" x2="191.90" y2="294.60" stroke="#111" stroke-width="1"/>
<line x1="224.00" y1="448.80" x2="224.00" y2="445.30" stroke="#111" stroke-width="1"/>
<line x1="224.00" y1="292.60" x2="224.00" y2="296.10" stroke="#111" stroke-width="1"/>
<text x="60.0" y="313.70000000000005" font-size="17" text-anchor="end" fill="#111" stroke="#111" stroke-width="0.28">0</text>
<text x="60.0" y="344.90000000000003" font-size="17" text-anchor="end" fill="#111" stroke="#111" stroke-width="0.28">-2</text>
<text x="60.0" y="376.1" font-size="17" text-anchor="end" fill="#111" stroke="#111" stroke-width="0.28">-4</text>
<text x="60.0" y="407.3" font-size="17" text-anchor="end" fill="#111" stroke="#111" stroke-width="0.28">-6</text>
<text x="60.0" y="438.5" font-size="17" text-anchor="end" fill="#111" stroke="#111" stroke-width="0.28">-8</text>
<text x="95.6" y="466.2" font-size="17.3" text-anchor="middle" fill="#111" stroke="#111" stroke-width="0.28">0</text>
<text x="159.8" y="466.2" font-size="17.3" text-anchor="middle" fill="#111" stroke="#111" stroke-width="0.28">40</text>
<text x="224.0" y="466.2" font-size="17.3" text-anchor="middle" fill="#111" stroke="#111" stroke-width="0.28">80</text>
<text x="160.3" y="493.1" font-size="17.6" text-anchor="middle" textLength="62.5" lengthAdjust="spacingAndGlyphs" fill="#111" stroke="#111" stroke-width="0.28">Time (s)</text>
<text transform="translate(35.2 405.5) rotate(-90) scale(1.055 1)" font-size="17.5" fill="#111" stroke="#111" stroke-width="0.28">V<tspan font-size="12" dy="4">oc</tspan><tspan dy="-4"> (mV)</tspan></text>
<svg x="78.90" y="376.90" width="41.20" height="61.10" overflow="hidden">
<rect x="0.00" y="0.00" width="41.20" height="61.10" fill="#a7a7a5"/>
<rect x="0.00" y="0.00" width="41.20" height="24.00" fill="#5d5d5d"/>
<rect x="0.00" y="0.00" width="11.00" height="61.10" fill="#9f8f84"/>
<rect x="2.00" y="3.00" width="5.00" height="1.00" fill="#7a6658"/>
<rect x="2.00" y="9.00" width="5.00" height="1.00" fill="#7a6658"/>
<rect x="2.00" y="15.00" width="5.00" height="1.00" fill="#7a6658"/>
<rect x="2.00" y="21.00" width="5.00" height="1.00" fill="#7a6658"/>
<rect x="2.00" y="27.00" width="5.00" height="1.00" fill="#7a6658"/>
<rect x="2.00" y="33.00" width="5.00" height="1.00" fill="#7a6658"/>
<rect x="2.00" y="39.00" width="5.00" height="1.00" fill="#7a6658"/>
<rect x="2.00" y="45.00" width="5.00" height="1.00" fill="#7a6658"/>
<rect x="2.00" y="51.00" width="5.00" height="1.00" fill="#7a6658"/>
<rect x="2.00" y="57.00" width="5.00" height="1.00" fill="#7a6658"/>
<rect x="12.00" y="0.00" width="21.00" height="6.00" fill="#7290c2"/>
<rect x="12.00" y="6.00" width="3.00" height="15.00" fill="#e6e6e6"/>
<rect x="18.00" y="6.00" width="3.00" height="15.00" fill="#e6e6e6"/>
<rect x="15.00" y="6.00" width="3.00" height="15.00" fill="#222"/>
<rect x="11.00" y="24.00" width="30.20" height="37.10" fill="#b0b0ae"/>
<rect x="12.00" y="25.00" width="28.20" height="2.00" fill="#d9d9d7"/>
<rect x="12.00" y="29.00" width="28.20" height="1.50" fill="#8e8e8c"/>
<rect x="12.00" y="34.00" width="28.20" height="2.00" fill="#d9d9d7"/>
<rect x="12.00" y="38.00" width="28.20" height="1.50" fill="#8e8e8c"/>
<rect x="12.00" y="43.00" width="28.20" height="2.00" fill="#d9d9d7"/>
<rect x="12.00" y="47.00" width="28.20" height="1.50" fill="#8e8e8c"/>
<rect x="12.00" y="52.00" width="28.20" height="2.00" fill="#d9d9d7"/>
<rect x="12.00" y="56.00" width="28.20" height="1.50" fill="#8e8e8c"/>
<path d="M32,46 L36,60 L40,48" fill="none" stroke="#a86060" stroke-width="0.8"/>
</svg>
<svg x="207.90" y="376.80" width="44.10" height="62.10" overflow="hidden">
<rect x="0.00" y="0.00" width="44.10" height="62.10" fill="#b3aeac"/>
<rect x="0.00" y="0.00" width="12.00" height="62.10" fill="#b3a691"/>
<rect x="2.00" y="3.00" width="6.00" height="1.00" fill="#8c7a66"/>
<rect x="2.00" y="9.00" width="6.00" height="1.00" fill="#8c7a66"/>
<rect x="2.00" y="15.00" width="6.00" height="1.00" fill="#8c7a66"/>
<rect x="2.00" y="21.00" width="6.00" height="1.00" fill="#8c7a66"/>
<rect x="2.00" y="27.00" width="6.00" height="1.00" fill="#8c7a66"/>
<rect x="2.00" y="33.00" width="6.00" height="1.00" fill="#8c7a66"/>
<rect x="2.00" y="39.00" width="6.00" height="1.00" fill="#8c7a66"/>
<rect x="2.00" y="45.00" width="6.00" height="1.00" fill="#8c7a66"/>
<rect x="2.00" y="51.00" width="6.00" height="1.00" fill="#8c7a66"/>
<rect x="2.00" y="57.00" width="6.00" height="1.00" fill="#8c7a66"/>
<rect x="12.00" y="0.00" width="32.10" height="24.00" fill="#454545"/>
<rect x="12.00" y="24.00" width="32.10" height="4.00" fill="#b4b4bc"/>
<rect x="12.00" y="28.00" width="32.10" height="8.00" fill="#3c3c44"/>
<rect x="12.00" y="36.00" width="32.10" height="26.10" fill="#b9b4b3"/>
<rect x="19.00" y="38.00" width="7.00" height="18.00" fill="#5a5a5a"/>
<rect x="17.50" y="36.00" width="10.00" height="3.00" fill="#8a8a8a"/>
<path d="M32,46 L36,60 L40,46" fill="none" stroke="#a86060" stroke-width="0.9"/>
</svg>
<path d="M97.5,347 C118,360 134,380 141,404 L144.5,418" fill="none" stroke="#d62c2a" stroke-width="2.3" stroke-linecap="round"/>
<polygon points="138.80,417.50 149.60,415.80 146.80,428.00" fill="#d62c2a" stroke="none" stroke-width="1"/>
<path d="M182.5,427 C187,400 200,372 223,353" fill="none" stroke="#d62c2a" stroke-width="2.3" stroke-linecap="round"/>
<polygon points="219.20,349.20 226.60,358.60 231.20,347.20" fill="#d62c2a" stroke="none" stroke-width="1"/>
<text x="85.2" y="341.7" font-size="17.4" fill="#111" stroke="#111" stroke-width="0.28">20 g</text>
<text x="124.5" y="370.0" font-size="17.4" fill="#111" stroke="#111" stroke-width="0.28">50 g</text>
<text x="183.0" y="371.3" font-size="17.4" fill="#111" stroke="#111" stroke-width="0.28">50 g</text>
<text x="215.0" y="343.9" font-size="17.4" fill="#111" stroke="#111" stroke-width="0.28">20 g</text>
<text x="151.8" y="434.4" font-size="17.4" fill="#111" stroke="#111" stroke-width="0.28">100 g</text>
<text x="283.7" y="259.7" font-size="19.5" font-weight="bold" fill="#111" stroke="#111" stroke-width="0.28">E</text>
<polyline points="333.12,391.85 421.05,372.25 520.58,387.43" fill="none" stroke="#d4d4d4" stroke-width="0.7"/>
<polyline points="331.85,358.90 421.10,341.00 521.95,355.35" fill="none" stroke="#d4d4d4" stroke-width="0.7"/>
<polyline points="330.57,325.95 421.15,309.75 523.33,323.27" fill="none" stroke="#d4d4d4" stroke-width="0.7"/>
<line x1="352.27" y1="289.38" x2="356.05" y2="419.48" stroke="#d4d4d4" stroke-width="0.7"/>
<line x1="447.07" y1="281.68" x2="445.55" y2="407.50" stroke="#d4d4d4" stroke-width="0.7"/>
<line x1="375.25" y1="285.75" x2="377.70" y2="414.15" stroke="#d4d4d4" stroke-width="0.7"/>
<line x1="472.95" y1="284.85" x2="470.10" y2="411.50" stroke="#d4d4d4" stroke-width="0.7"/>
<line x1="398.23" y1="282.12" x2="399.35" y2="408.82" stroke="#d4d4d4" stroke-width="0.7"/>
<line x1="498.83" y1="288.02" x2="494.65" y2="415.50" stroke="#d4d4d4" stroke-width="0.7"/>
<line x1="421.20" y1="278.50" x2="421.00" y2="403.50" stroke="#d4d4d4" stroke-width="0.8"/>
<line x1="385.85" y1="443.70" x2="470.10" y2="411.50" stroke="#d4d4d4" stroke-width="0.7"/>
<line x1="478.25" y1="441.05" x2="377.70" y2="414.15" stroke="#d4d4d4" stroke-width="0.7"/>
<polyline points="329.30,293.00 421.20,278.50 524.70,291.20" fill="none" stroke="#222" stroke-width="1.0"/>
<polyline points="329.30,293.00 334.40,424.80 437.30,462.60 519.20,419.50 524.70,291.20" fill="none" stroke="#222" stroke-width="1.2"/>
<line x1="334.40" y1="424.80" x2="337.40" y2="424.40" stroke="#222" stroke-width="0.9"/>
<line x1="519.20" y1="419.50" x2="516.20" y2="419.10" stroke="#222" stroke-width="0.9"/>
<line x1="333.76" y1="408.32" x2="335.56" y2="407.93" stroke="#222" stroke-width="0.9"/>
<line x1="519.89" y1="403.46" x2="518.09" y2="403.06" stroke="#222" stroke-width="0.9"/>
<line x1="333.12" y1="391.85" x2="336.12" y2="391.45" stroke="#222" stroke-width="0.9"/>
<line x1="520.58" y1="387.43" x2="517.58" y2="387.03" stroke="#222" stroke-width="0.9"/>
<line x1="332.49" y1="375.38" x2="334.29" y2="374.98" stroke="#222" stroke-width="0.9"/>
<line x1="521.26" y1="371.39" x2="519.46" y2="370.99" stroke="#222" stroke-width="0.9"/>
<line x1="331.85" y1="358.90" x2="334.85" y2="358.50" stroke="#222" stroke-width="0.9"/>
<line x1="521.95" y1="355.35" x2="518.95" y2="354.95" stroke="#222" stroke-width="0.9"/>
<line x1="331.21" y1="342.43" x2="333.01" y2="342.03" stroke="#222" stroke-width="0.9"/>
<line x1="522.64" y1="339.31" x2="520.84" y2="338.91" stroke="#222" stroke-width="0.9"/>
<line x1="330.57" y1="325.95" x2="333.57" y2="325.55" stroke="#222" stroke-width="0.9"/>
<line x1="523.33" y1="323.27" x2="520.33" y2="322.88" stroke="#222" stroke-width="0.9"/>
<line x1="329.94" y1="309.48" x2="331.74" y2="309.08" stroke="#222" stroke-width="0.9"/>
<line x1="524.01" y1="307.24" x2="522.21" y2="306.84" stroke="#222" stroke-width="0.9"/>
<line x1="329.30" y1="293.00" x2="332.30" y2="292.60" stroke="#222" stroke-width="0.9"/>
<line x1="524.70" y1="291.20" x2="521.70" y2="290.80" stroke="#222" stroke-width="0.9"/>
<line x1="360.12" y1="434.25" x2="361.12" y2="431.25" stroke="#222" stroke-width="0.9"/>
<line x1="457.78" y1="451.83" x2="456.78" y2="448.83" stroke="#222" stroke-width="0.9"/>
<line x1="411.57" y1="453.15" x2="412.57" y2="450.15" stroke="#222" stroke-width="0.9"/>
<line x1="498.73" y1="430.27" x2="497.73" y2="427.27" stroke="#222" stroke-width="0.9"/>
<line x1="385.85" y1="443.70" x2="386.45" y2="441.70" stroke="#222" stroke-width="0.8"/>
<line x1="478.25" y1="441.05" x2="477.65" y2="439.05" stroke="#222" stroke-width="0.8"/>
<polygon points="359.00,423.80 381.60,415.70 403.30,423.30 382.60,432.30" fill="#2b82cc" stroke="none" stroke-width="1"/>
<polygon points="408.60,441.80 430.70,432.30 455.50,440.80 434.50,450.50" fill="#2b82cc" stroke="none" stroke-width="1"/>
<polygon points="451.70,421.00 470.00,412.50 496.00,420.00 476.70,429.50" fill="#2b82cc" stroke="none" stroke-width="1"/>
<polygon points="402.30,307.80 426.00,311.00 426.00,413.00 403.30,406.80" fill="#4e9edb" stroke="none" stroke-width="1"/>
<polygon points="426.00,311.00 446.80,306.50 445.30,405.00 426.00,413.00" fill="#2a77bf" stroke="none" stroke-width="1"/>
<polygon points="402.30,307.80 422.70,303.80 446.80,306.50 426.00,311.00" fill="#2f85cf" stroke="none" stroke-width="1"/>
<svg x="335.20" y="301.20" width="64.50" height="64.60" overflow="hidden">
<rect x="0.00" y="0.00" width="64.50" height="64.60" fill="#9a9896"/>
<line x1="8.06" y1="0.00" x2="8.06" y2="64.60" stroke="#b4b2b0" stroke-width="0.7"/>
<line x1="0.00" y1="8.07" x2="64.50" y2="8.07" stroke="#b4b2b0" stroke-width="0.7"/>
<line x1="16.12" y1="0.00" x2="16.12" y2="64.60" stroke="#b4b2b0" stroke-width="0.7"/>
<line x1="0.00" y1="16.15" x2="64.50" y2="16.15" stroke="#b4b2b0" stroke-width="0.7"/>
<line x1="24.19" y1="0.00" x2="24.19" y2="64.60" stroke="#b4b2b0" stroke-width="0.7"/>
<line x1="0.00" y1="24.22" x2="64.50" y2="24.22" stroke="#b4b2b0" stroke-width="0.7"/>
<line x1="32.25" y1="0.00" x2="32.25" y2="64.60" stroke="#b4b2b0" stroke-width="0.7"/>
<line x1="0.00" y1="32.30" x2="64.50" y2="32.30" stroke="#b4b2b0" stroke-width="0.7"/>
<line x1="40.31" y1="0.00" x2="40.31" y2="64.60" stroke="#b4b2b0" stroke-width="0.7"/>
<line x1="0.00" y1="40.38" x2="64.50" y2="40.38" stroke="#b4b2b0" stroke-width="0.7"/>
<line x1="48.38" y1="0.00" x2="48.38" y2="64.60" stroke="#b4b2b0" stroke-width="0.7"/>
<line x1="0.00" y1="48.45" x2="64.50" y2="48.45" stroke="#b4b2b0" stroke-width="0.7"/>
<line x1="56.44" y1="0.00" x2="56.44" y2="64.60" stroke="#b4b2b0" stroke-width="0.7"/>
<line x1="0.00" y1="56.52" x2="64.50" y2="56.52" stroke="#b4b2b0" stroke-width="0.7"/>
<rect x="0.00" y="11.00" width="19.00" height="7.00" fill="#262626"/>
<rect x="38.50" y="11.00" width="26.00" height="7.00" fill="#262626"/>
<rect x="18.70" y="12.00" width="8.30" height="4.00" fill="#d8d8d8"/>
<rect x="38.50" y="12.00" width="9.40" height="4.00" fill="#d8d8d8"/>
<rect x="34.30" y="23.40" width="18.70" height="4.60" fill="#dcdcdc"/>
<rect x="32.30" y="35.40" width="20.70" height="6.20" fill="#e2e2e2"/>
<rect x="35.00" y="43.00" width="14.00" height="10.00" fill="#bdbdbd"/>
<rect x="44.70" y="50.00" width="8.30" height="6.00" fill="#2a2a2a"/>
<rect x="7.00" y="24.00" width="7.00" height="6.00" fill="#cfcfcf"/>
<rect x="7.00" y="36.00" width="7.00" height="7.00" fill="#cfcfcf"/>
<path d="M3,0 L13,0 L13,21 Q9,23 5,21 Z" fill="#c9333d" stroke="none" stroke-width="1"/>
<path d="M50,0 L61.4,0 L58,22 Q54,24 51,21 Z" fill="#c9333d" stroke="none" stroke-width="1"/>
<path d="M2,64.6 L12.5,64.6 L11,45 Q6,42 3,45 Z" fill="#bf2e38" stroke="none" stroke-width="1"/>
<path d="M53,64.6 L63.5,64.6 L61,40 Q57,37 54,40 Z" fill="#bf2e38" stroke="none" stroke-width="1"/>
<defs><linearGradient id="glv1" x1="0" x2="0" y1="0" y2="1"><stop offset="0" stop-color="#b9cbe8"/><stop offset="1" stop-color="#86a3d3"/></linearGradient></defs>
<path d="M15.6,64.6 L17,30 Q19,22.9 24,22.9 Q29,23 30,30 L31.2,64.6 Z" fill="url(#glv1)" stroke="none" stroke-width="1"/>
</svg>
<text x="407.8" y="297.4" font-size="16" textLength="32.2" lengthAdjust="spacingAndGlyphs" fill="#111" stroke="#111" stroke-width="0.28">65.5</text>
<text x="311.7" y="301.8" font-size="15.5" textLength="16.1" lengthAdjust="spacingAndGlyphs" fill="#111" stroke="#111" stroke-width="0.28">80</text>
<text x="313.29999999999995" y="336.7" font-size="15.5" textLength="15.6" lengthAdjust="spacingAndGlyphs" fill="#111" stroke="#111" stroke-width="0.28">60</text>
<text x="315.5" y="370" font-size="15.5" textLength="15.7" lengthAdjust="spacingAndGlyphs" fill="#111" stroke="#111" stroke-width="0.28">40</text>
<text x="317.7" y="403.3" font-size="15.5" textLength="14.6" lengthAdjust="spacingAndGlyphs" fill="#111" stroke="#111" stroke-width="0.28">20</text>
<text x="325.5" y="433.3" font-size="15.5" textLength="7.9" lengthAdjust="spacingAndGlyphs" fill="#111" stroke="#111" stroke-width="0.28">0</text>
<text x="527.3" y="298.9" font-size="15.5" textLength="16.1" lengthAdjust="spacingAndGlyphs" fill="#111" stroke="#111" stroke-width="0.28">80</text>
<text x="525.5" y="333.3" font-size="15.5" textLength="15.7" lengthAdjust="spacingAndGlyphs" fill="#111" stroke="#111" stroke-width="0.28">60</text>
<text x="523.3" y="367.1" font-size="15.5" textLength="16.1" lengthAdjust="spacingAndGlyphs" fill="#111" stroke="#111" stroke-width="0.28">40</text>
<text x="522.1999999999999" y="397.8" font-size="15.5" textLength="15.6" lengthAdjust="spacingAndGlyphs" fill="#111" stroke="#111" stroke-width="0.28">20</text>
<text x="521.6999999999999" y="427.1" font-size="15.5" textLength="7.2" lengthAdjust="spacingAndGlyphs" fill="#111" stroke="#111" stroke-width="0.28">0</text>
<text transform="translate(365.7 450.5) rotate(22) skewX(-12) scale(1.12 1)" font-size="11.5" text-anchor="middle" dominant-baseline="central" fill="#222" stroke="none">Cloumn</text>
<text transform="translate(352 435.2) rotate(-68) skewX(0) scale(1.0 1)" font-size="10" text-anchor="middle" dominant-baseline="central" fill="#222" stroke="none">1</text>
<text transform="translate(403.7 455.4) rotate(-68) skewX(0) scale(1.0 1)" font-size="10.5" text-anchor="middle" dominant-baseline="central" fill="#222" stroke="none">2</text>
<text transform="translate(507.5 448.4) rotate(-36) skewX(10) scale(1.08 1)" font-size="11.5" text-anchor="middle" dominant-baseline="central" fill="#222" stroke="none">Row</text>
<text transform="translate(475.8 455.4) rotate(58) skewX(0) scale(1.0 1)" font-size="10" text-anchor="middle" dominant-baseline="central" fill="#222" stroke="none">1</text>
<text transform="translate(514.5 433.2) rotate(58) skewX(0) scale(1.0 1)" font-size="10.5" text-anchor="middle" dominant-baseline="central" fill="#222" stroke="none">2</text>
<text transform="translate(310.8 400.5) rotate(-90) scale(1.0 1)" font-size="14" fill="#111" stroke="#111" stroke-width="0.28">V<tspan font-size="11" dy="3.5">oc</tspan><tspan dy="-3.5"> (mV)</tspan></text>
<text x="585.5" y="259.9" font-size="19.5" font-weight="bold" fill="#111" stroke="#111" stroke-width="0.28">F</text>
<polyline points="610.52,388.65 693.05,366.82 797.40,383.90" fill="none" stroke="#d4d4d4" stroke-width="0.7"/>
<polyline points="609.25,355.30 693.10,335.65 799.00,351.60" fill="none" stroke="#d4d4d4" stroke-width="0.7"/>
<polyline points="607.98,321.95 693.15,304.48 800.60,319.30" fill="none" stroke="#d4d4d4" stroke-width="0.7"/>
<line x1="628.33" y1="284.78" x2="632.10" y2="416.00" stroke="#d4d4d4" stroke-width="0.7"/>
<line x1="720.45" y1="276.73" x2="718.70" y2="402.55" stroke="#d4d4d4" stroke-width="0.7"/>
<line x1="649.95" y1="280.95" x2="652.40" y2="410.00" stroke="#d4d4d4" stroke-width="0.7"/>
<line x1="747.70" y1="280.15" x2="744.40" y2="407.10" stroke="#d4d4d4" stroke-width="0.7"/>
<line x1="671.58" y1="277.12" x2="672.70" y2="404.00" stroke="#d4d4d4" stroke-width="0.7"/>
<line x1="774.95" y1="283.57" x2="770.10" y2="411.65" stroke="#d4d4d4" stroke-width="0.7"/>
<line x1="693.20" y1="273.30" x2="693.00" y2="398.00" stroke="#d4d4d4" stroke-width="0.8"/>
<line x1="662.80" y1="440.25" x2="744.40" y2="407.10" stroke="#d4d4d4" stroke-width="0.7"/>
<line x1="754.80" y1="437.35" x2="652.40" y2="410.00" stroke="#d4d4d4" stroke-width="0.7"/>
<polyline points="606.70,288.60 693.20,273.30 802.20,287.00" fill="none" stroke="#222" stroke-width="1.0"/>
<polyline points="606.70,288.60 611.80,422.00 713.80,458.50 795.80,416.20 802.20,287.00" fill="none" stroke="#222" stroke-width="1.2"/>
<line x1="611.80" y1="422.00" x2="614.80" y2="421.60" stroke="#222" stroke-width="0.9"/>
<line x1="795.80" y1="416.20" x2="792.80" y2="415.80" stroke="#222" stroke-width="0.9"/>
<line x1="611.16" y1="405.32" x2="612.96" y2="404.93" stroke="#222" stroke-width="0.9"/>
<line x1="796.60" y1="400.05" x2="794.80" y2="399.65" stroke="#222" stroke-width="0.9"/>
<line x1="610.52" y1="388.65" x2="613.52" y2="388.25" stroke="#222" stroke-width="0.9"/>
<line x1="797.40" y1="383.90" x2="794.40" y2="383.50" stroke="#222" stroke-width="0.9"/>
<line x1="609.89" y1="371.98" x2="611.69" y2="371.58" stroke="#222" stroke-width="0.9"/>
<line x1="798.20" y1="367.75" x2="796.40" y2="367.35" stroke="#222" stroke-width="0.9"/>
<line x1="609.25" y1="355.30" x2="612.25" y2="354.90" stroke="#222" stroke-width="0.9"/>
<line x1="799.00" y1="351.60" x2="796.00" y2="351.20" stroke="#222" stroke-width="0.9"/>
<line x1="608.61" y1="338.62" x2="610.41" y2="338.23" stroke="#222" stroke-width="0.9"/>
<line x1="799.80" y1="335.45" x2="798.00" y2="335.05" stroke="#222" stroke-width="0.9"/>
<line x1="607.98" y1="321.95" x2="610.98" y2="321.55" stroke="#222" stroke-width="0.9"/>
<line x1="800.60" y1="319.30" x2="797.60" y2="318.90" stroke="#222" stroke-width="0.9"/>
<line x1="607.34" y1="305.28" x2="609.14" y2="304.88" stroke="#222" stroke-width="0.9"/>
<line x1="801.40" y1="303.15" x2="799.60" y2="302.75" stroke="#222" stroke-width="0.9"/>
<line x1="606.70" y1="288.60" x2="609.70" y2="288.20" stroke="#222" stroke-width="0.9"/>
<line x1="802.20" y1="287.00" x2="799.20" y2="286.60" stroke="#222" stroke-width="0.9"/>
<line x1="637.30" y1="431.12" x2="638.30" y2="428.12" stroke="#222" stroke-width="0.9"/>
<line x1="734.30" y1="447.93" x2="733.30" y2="444.93" stroke="#222" stroke-width="0.9"/>
<line x1="688.30" y1="449.38" x2="689.30" y2="446.38" stroke="#222" stroke-width="0.9"/>
<line x1="775.30" y1="426.77" x2="774.30" y2="423.77" stroke="#222" stroke-width="0.9"/>
<line x1="662.80" y1="440.25" x2="663.40" y2="438.25" stroke="#222" stroke-width="0.8"/>
<line x1="754.80" y1="437.35" x2="754.20" y2="435.35" stroke="#222" stroke-width="0.8"/>
<polygon points="634.90,419.80 658.20,409.10 681.50,416.40 659.90,428.00" fill="#2b82cc" stroke="none" stroke-width="1"/>
<polygon points="684.80,438.00 706.50,428.00 733.10,437.00 713.10,446.40" fill="#2b82cc" stroke="none" stroke-width="1"/>
<polygon points="678.90,298.40 703.30,301.70 703.30,409.30 680.60,403.10" fill="#4e9edb" stroke="none" stroke-width="1"/>
<polygon points="703.30,301.70 723.70,297.70 722.80,402.00 703.30,409.30" fill="#2a77bf" stroke="none" stroke-width="1"/>
<polygon points="678.90,298.40 698.80,295.10 723.70,297.70 703.30,301.70" fill="#2f85cf" stroke="none" stroke-width="1"/>
<polygon points="729.50,333.20 755.40,336.60 755.40,424.90 728.80,417.50" fill="#4e9edb" stroke="none" stroke-width="1"/>
<polygon points="755.40,336.60 776.50,332.10 774.30,417.50 755.40,424.90" fill="#2a77bf" stroke="none" stroke-width="1"/>
<polygon points="729.50,333.20 748.80,327.70 776.50,332.10 755.40,336.60" fill="#2f85cf" stroke="none" stroke-width="1"/>
<svg x="613.00" y="301.20" width="64.60" height="64.80" overflow="hidden">
<rect x="0.00" y="0.00" width="64.60" height="64.80" fill="#a29c97"/>
<line x1="7.18" y1="0.00" x2="7.18" y2="64.80" stroke="#b8b2ad" stroke-width="0.7"/>
<line x1="0.00" y1="7.20" x2="64.60" y2="7.20" stroke="#b8b2ad" stroke-width="0.7"/>
<line x1="14.36" y1="0.00" x2="14.36" y2="64.80" stroke="#b8b2ad" stroke-width="0.7"/>
<line x1="0.00" y1="14.40" x2="64.60" y2="14.40" stroke="#b8b2ad" stroke-width="0.7"/>
<line x1="21.53" y1="0.00" x2="21.53" y2="64.80" stroke="#b8b2ad" stroke-width="0.7"/>
<line x1="0.00" y1="21.60" x2="64.60" y2="21.60" stroke="#b8b2ad" stroke-width="0.7"/>
<line x1="28.71" y1="0.00" x2="28.71" y2="64.80" stroke="#b8b2ad" stroke-width="0.7"/>
<line x1="0.00" y1="28.80" x2="64.60" y2="28.80" stroke="#b8b2ad" stroke-width="0.7"/>
<line x1="35.89" y1="0.00" x2="35.89" y2="64.80" stroke="#b8b2ad" stroke-width="0.7"/>
<line x1="0.00" y1="36.00" x2="64.60" y2="36.00" stroke="#b8b2ad" stroke-width="0.7"/>
<line x1="43.07" y1="0.00" x2="43.07" y2="64.80" stroke="#b8b2ad" stroke-width="0.7"/>
<line x1="0.00" y1="43.20" x2="64.60" y2="43.20" stroke="#b8b2ad" stroke-width="0.7"/>
<line x1="50.24" y1="0.00" x2="50.24" y2="64.80" stroke="#b8b2ad" stroke-width="0.7"/>
<line x1="0.00" y1="50.40" x2="64.60" y2="50.40" stroke="#b8b2ad" stroke-width="0.7"/>
<line x1="57.42" y1="0.00" x2="57.42" y2="64.80" stroke="#b8b2ad" stroke-width="0.7"/>
<line x1="0.00" y1="57.60" x2="64.60" y2="57.60" stroke="#b8b2ad" stroke-width="0.7"/>
<rect x="0.00" y="12.00" width="31.50" height="5.80" fill="#2a2624"/>
<rect x="39.00" y="12.00" width="25.60" height="5.80" fill="#2a2624"/>
<rect x="0.00" y="45.00" width="13.40" height="6.50" fill="#2a2624"/>
<rect x="49.60" y="45.00" width="15.00" height="6.50" fill="#2a2624"/>
<rect x="30.00" y="14.00" width="10.00" height="4.00" fill="#cfcfcf"/>
<path d="M12.3,0 L20.3,0 L19.5,21 Q16,23.5 13,21 Z" fill="#c9333d" stroke="none" stroke-width="1"/>
<path d="M47.5,0 L56,0 L55,20 Q51.5,22.5 48.5,20 Z" fill="#c9333d" stroke="none" stroke-width="1"/>
<path d="M12.3,36 L16.6,36 L14.4,64.8 L7,64.8 Z" fill="#bf2e38" stroke="none" stroke-width="1"/>
<path d="M49.6,36 L56,36 L61.4,64.8 L54,64.8 Z" fill="#bf2e38" stroke="none" stroke-width="1"/>
<path d="M16.6,64.8 L18,28 Q21,21.4 25,21.4 Q30,22 31.5,30 L31.5,64.8 Z" fill="#8eafdc" stroke="none" stroke-width="1"/>
<path d="M30.5,64.8 L31,30 Q33,22 39,22 Q47,23 48,32 L48.7,64.8 Z" fill="#97b6e0" stroke="none" stroke-width="1"/>
<line x1="31.00" y1="30.00" x2="31.00" y2="64.80" stroke="#5f7fae" stroke-width="1"/>
</svg>
<text x="683.8" y="292.2" font-size="16" textLength="34" lengthAdjust="spacingAndGlyphs" fill="#111" stroke="#111" stroke-width="0.28">69.2</text>
<text x="737.7" y="324.4" font-size="16" textLength="33.3" lengthAdjust="spacingAndGlyphs" fill="#111" stroke="#111" stroke-width="0.28">53.5</text>
<text x="589.0" y="297.3" font-size="15.2" textLength="14.9" lengthAdjust="spacingAndGlyphs" fill="#111" stroke="#111" stroke-width="0.28">80</text>
<text x="590.5" y="332.9" font-size="15.2" textLength="14.6" lengthAdjust="spacingAndGlyphs" fill="#111" stroke="#111" stroke-width="0.28">60</text>
<text x="591.6" y="367.1" font-size="15.2" textLength="15.7" lengthAdjust="spacingAndGlyphs" fill="#111" stroke="#111" stroke-width="0.28">40</text>
<text x="595.0" y="398.9" font-size="15.2" textLength="15.6" lengthAdjust="spacingAndGlyphs" fill="#111" stroke="#111" stroke-width="0.28">20</text>
<text x="602.6999999999999" y="428.4" font-size="15.2" textLength="8.3" lengthAdjust="spacingAndGlyphs" fill="#111" stroke="#111" stroke-width="0.28">0</text>
<text x="804.8" y="295" font-size="15.2" textLength="15.9" lengthAdjust="spacingAndGlyphs" fill="#111" stroke="#111" stroke-width="0.28">80</text>
<text x="802.6" y="329" font-size="15.2" textLength="15.9" lengthAdjust="spacingAndGlyphs" fill="#111" stroke="#111" stroke-width="0.28">60</text>
<text x="801.1" y="362.1" font-size="15.2" textLength="15.6" lengthAdjust="spacingAndGlyphs" fill="#111" stroke="#111" stroke-width="0.28">40</text>
<text x="799.5" y="393.9" font-size="15.2" textLength="15.4" lengthAdjust="spacingAndGlyphs" fill="#111" stroke="#111" stroke-width="0.28">20</text>
<text x="798.1999999999999" y="422.8" font-size="15.2" textLength="8.5" lengthAdjust="spacingAndGlyphs" fill="#111" stroke="#111" stroke-width="0.28">0</text>
<text transform="translate(642.8 446.2) rotate(22) skewX(-12) scale(1.12 1)" font-size="11.5" text-anchor="middle" dominant-baseline="central" fill="#222" stroke="none">Cloumn</text>
<text transform="translate(629.3 431.7) rotate(-68) skewX(0) scale(1.0 1)" font-size="10" text-anchor="middle" dominant-baseline="central" fill="#222" stroke="none">1</text>
<text transform="translate(680.3 451.1) rotate(-68) skewX(0) scale(1.0 1)" font-size="10.5" text-anchor="middle" dominant-baseline="central" fill="#222" stroke="none">2</text>
<text transform="translate(784.5 444.4) rotate(-36) skewX(10) scale(1.08 1)" font-size="11.5" text-anchor="middle" dominant-baseline="central" fill="#222" stroke="none">Row</text>
<text transform="translate(752.5 451.6) rotate(58) skewX(0) scale(1.0 1)" font-size="10" text-anchor="middle" dominant-baseline="central" fill="#222" stroke="none">1</text>
<text transform="translate(791.7 429.2) rotate(58) skewX(0) scale(1.0 1)" font-size="10.5" text-anchor="middle" dominant-baseline="central" fill="#222" stroke="none">2</text>
<text transform="translate(588.5 396) rotate(-90)" font-size="14.2" fill="#111" stroke="#111" stroke-width="0.28">V<tspan font-size="11" dy="3.5">oc</tspan><tspan dy="-3.5"> (mV)</tspan></text>
<text x="16" y="495.6" font-size="19.5" font-weight="bold" fill="#111" stroke="#111" stroke-width="0.28">G</text>
<defs>
<filter id="fabN" x="0" y="0" width="100%" height="100%" filterUnits="objectBoundingBox" color-interpolation-filters="sRGB">
<feTurbulence type="fractalNoise" baseFrequency="0.45 0.6" numOctaves="2" seed="7" result="n"/>
<feColorMatrix in="n" type="matrix" values="0.7 0 0 0 -0.20  0.7 0 0 0 -0.185  0.7 0 0 0 -0.165  0 0 0 0 1"/>
</filter>
<radialGradient id="bump" cx="0.5" cy="0.45" r="0.5"><stop offset="0" stop-color="#6f7a83" stop-opacity="0.45"/><stop offset="0.55" stop-color="#535d66" stop-opacity="0.28"/><stop offset="1" stop-color="#2a3138" stop-opacity="0"/></radialGradient>
</defs>
<svg x="18.1" y="521.3" width="240.2" height="149.3" overflow="hidden">
<rect x="0.00" y="0.00" width="240.20" height="149.30" fill="#20262b"/>
<rect x="0" y="0" width="240.2" height="149.3" filter="url(#fabN)"/>
<ellipse cx="39.6" cy="103.0" rx="14.3" ry="4.4" fill="#0f1317" fill-opacity="0.35" transform="rotate(-17.0 39.6 103.0)"/>
<ellipse cx="190.4" cy="120.6" rx="13.1" ry="4.5" fill="#0f1317" fill-opacity="0.35" transform="rotate(-15.8 190.4 120.6)"/>
<ellipse cx="0.8" cy="55.4" rx="13.9" ry="3.2" fill="#0f1317" fill-opacity="0.35" transform="rotate(17.6 0.8 55.4)"/>
<ellipse cx="55.8" cy="34.7" rx="8.4" ry="6.0" fill="#0f1317" fill-opacity="0.35" transform="rotate(14.3 55.8 34.7)"/>
<ellipse cx="210.2" cy="92.0" rx="8.3" ry="4.0" fill="#0f1317" fill-opacity="0.35" transform="rotate(-0.1 210.2 92.0)"/>
<ellipse cx="27.8" cy="142.1" rx="11.7" ry="3.5" fill="#0f1317" fill-opacity="0.35" transform="rotate(19.1 27.8 142.1)"/>
<ellipse cx="30.0" cy="138.5" rx="12.5" ry="4.7" fill="#0f1317" fill-opacity="0.35" transform="rotate(-9.4 30.0 138.5)"/>
<ellipse cx="116.4" cy="27.9" rx="8.4" ry="5.6" fill="#0f1317" fill-opacity="0.35" transform="rotate(-15.9 116.4 27.9)"/>
<ellipse cx="187.4" cy="31.1" rx="17.7" ry="5.7" fill="#0f1317" fill-opacity="0.35" transform="rotate(15.3 187.4 31.1)"/>
<ellipse cx="183.2" cy="86.7" rx="15.3" ry="3.4" fill="#0f1317" fill-opacity="0.35" transform="rotate(-1.4 183.2 86.7)"/>
<ellipse cx="198.6" cy="30.0" rx="17.2" ry="5.7" fill="#0f1317" fill-opacity="0.35" transform="rotate(-5.4 198.6 30.0)"/>
<ellipse cx="87.7" cy="67.4" rx="11.9" ry="6.0" fill="#0f1317" fill-opacity="0.35" transform="rotate(-6.8 87.7 67.4)"/>
<ellipse cx="6.4" cy="13.9" rx="15.2" ry="6.0" fill="#0f1317" fill-opacity="0.35" transform="rotate(-0.2 6.4 13.9)"/>
<ellipse cx="118.1" cy="82.2" rx="15.5" ry="3.7" fill="#0f1317" fill-opacity="0.35" transform="rotate(6.5 118.1 82.2)"/>
<ellipse cx="133.7" cy="93.0" rx="9.8" ry="3.5" fill="#0f1317" fill-opacity="0.35" transform="rotate(-9.1 133.7 93.0)"/>
<ellipse cx="222.7" cy="51.7" rx="14.0" ry="3.9" fill="#0f1317" fill-opacity="0.35" transform="rotate(-23.8 222.7 51.7)"/>
<ellipse cx="15.8" cy="121.5" rx="15.8" ry="4.1" fill="#0f1317" fill-opacity="0.35" transform="rotate(11.0 15.8 121.5)"/>
<ellipse cx="162.4" cy="134.2" rx="17.6" ry="4.2" fill="#0f1317" fill-opacity="0.35" transform="rotate(29.3 162.4 134.2)"/>
<ellipse cx="230.9" cy="88.2" rx="16.8" ry="4.5" fill="#0f1317" fill-opacity="0.35" transform="rotate(-7.5 230.9 88.2)"/>
<ellipse cx="59.4" cy="130.8" rx="9.6" ry="3.2" fill="#0f1317" fill-opacity="0.35" transform="rotate(18.3 59.4 130.8)"/>
<ellipse cx="185.9" cy="72.1" rx="16.4" ry="3.2" fill="#0f1317" fill-opacity="0.35" transform="rotate(-14.5 185.9 72.1)"/>
<ellipse cx="69.6" cy="62.6" rx="9.7" ry="3.2" fill="#0f1317" fill-opacity="0.35" transform="rotate(-9.7 69.6 62.6)"/>
<ellipse cx="216.0" cy="146.8" rx="15.5" ry="4.4" fill="#0f1317" fill-opacity="0.35" transform="rotate(-14.9 216.0 146.8)"/>
<ellipse cx="230.3" cy="78.5" rx="15.3" ry="3.1" fill="#0f1317" fill-opacity="0.35" transform="rotate(-17.3 230.3 78.5)"/>
<ellipse cx="201.4" cy="118.7" rx="16.8" ry="4.8" fill="#0f1317" fill-opacity="0.35" transform="rotate(-4.4 201.4 118.7)"/>
<ellipse cx="139.6" cy="126.8" rx="11.1" ry="4.6" fill="#0f1317" fill-opacity="0.35" transform="rotate(-13.4 139.6 126.8)"/>
<ellipse cx="184.5" cy="1.5" rx="14.9" ry="5.9" fill="#0f1317" fill-opacity="0.35" transform="rotate(-28.6 184.5 1.5)"/>
<ellipse cx="142.6" cy="96.1" rx="16.5" ry="4.8" fill="#0f1317" fill-opacity="0.35" transform="rotate(-14.6 142.6 96.1)"/>
<ellipse cx="97.4" cy="143.1" rx="17.1" ry="3.4" fill="#0f1317" fill-opacity="0.35" transform="rotate(-24.3 97.4 143.1)"/>
<ellipse cx="22.6" cy="3.8" rx="12.5" ry="3.4" fill="#0f1317" fill-opacity="0.35" transform="rotate(22.0 22.6 3.8)"/>
<ellipse cx="157.4" cy="18.9" rx="13.4" ry="4.0" fill="#0f1317" fill-opacity="0.35" transform="rotate(-0.4 157.4 18.9)"/>
<ellipse cx="52.7" cy="24.8" rx="9.8" ry="4.1" fill="#0f1317" fill-opacity="0.35" transform="rotate(12.6 52.7 24.8)"/>
<ellipse cx="132.1" cy="6.9" rx="15.1" ry="5.6" fill="#0f1317" fill-opacity="0.35" transform="rotate(16.5 132.1 6.9)"/>
<ellipse cx="189.9" cy="1.2" rx="12.6" ry="3.2" fill="#0f1317" fill-opacity="0.35" transform="rotate(15.8 189.9 1.2)"/>
<ellipse cx="42.1" cy="106.2" rx="10.5" ry="5.1" fill="#0f1317" fill-opacity="0.35" transform="rotate(-11.2 42.1 106.2)"/>
<ellipse cx="10.1" cy="58.1" rx="11.1" ry="5.7" fill="#0f1317" fill-opacity="0.35" transform="rotate(-12.3 10.1 58.1)"/>
<ellipse cx="120.8" cy="82.0" rx="17.5" ry="3.3" fill="#0f1317" fill-opacity="0.35" transform="rotate(6.1 120.8 82.0)"/>
<ellipse cx="122.1" cy="109.7" rx="17.7" ry="3.9" fill="#0f1317" fill-opacity="0.35" transform="rotate(12.0 122.1 109.7)"/>
<ellipse cx="126.3" cy="83.7" rx="8.6" ry="5.4" fill="#0f1317" fill-opacity="0.35" transform="rotate(28.6 126.3 83.7)"/>
<ellipse cx="85.3" cy="47.5" rx="17.9" ry="3.3" fill="#0f1317" fill-opacity="0.35" transform="rotate(-25.4 85.3 47.5)"/>
<ellipse cx="-62.4" cy="7.1" rx="20.5" ry="9.5" fill="url(#bump)" transform="rotate(18.2 -62.4 7.1)"/>
<ellipse cx="-64.3" cy="5.4" rx="21.2" ry="8.6" fill="url(#bump)" transform="rotate(-4.0 -64.3 5.4)"/>
<ellipse cx="-50.5" cy="1.3" rx="20.3" ry="8.0" fill="url(#bump)" transform="rotate(-31.6 -50.5 1.3)"/>
<ellipse cx="17.4" cy="7.2" rx="20.6" ry="7.9" fill="url(#bump)" transform="rotate(15.7 17.4 7.2)"/>
<ellipse cx="5.9" cy="3.9" rx="25.6" ry="7.3" fill="url(#bump)" transform="rotate(9.2 5.9 3.9)"/>
<ellipse cx="9.3" cy="3.9" rx="24.9" ry="10.1" fill="url(#bump)" transform="rotate(15.2 9.3 3.9)"/>
<ellipse cx="71.6" cy="6.6" rx="24.6" ry="9.8" fill="url(#bump)" transform="rotate(11.8 71.6 6.6)"/>
<ellipse cx="73.6" cy="1.5" rx="19.9" ry="9.5" fill="url(#bump)" transform="rotate(29.2 73.6 1.5)"/>
<ellipse cx="78.7" cy="8.6" rx="16.1" ry="8.3" fill="url(#bump)" transform="rotate(34.2 78.7 8.6)"/>
<ellipse cx="117.2" cy="2.9" rx="21.5" ry="7.3" fill="url(#bump)" transform="rotate(-24.8 117.2 2.9)"/>
<ellipse cx="116.9" cy="8.4" rx="20.6" ry="7.4" fill="url(#bump)" transform="rotate(17.0 116.9 8.4)"/>
<ellipse cx="140.4" cy="6.0" rx="19.4" ry="9.6" fill="url(#bump)" transform="rotate(-20.6 140.4 6.0)"/>
<ellipse cx="187.5" cy="1.6" rx="19.2" ry="8.0" fill="url(#bump)" transform="rotate(31.6 187.5 1.6)"/>
<ellipse cx="193.4" cy="0.5" rx="18.0" ry="9.4" fill="url(#bump)" transform="rotate(12.7 193.4 0.5)"/>
<ellipse cx="173.0" cy="2.8" rx="20.7" ry="8.7" fill="url(#bump)" transform="rotate(30.9 173.0 2.8)"/>
<ellipse cx="242.2" cy="1.8" rx="19.8" ry="8.1" fill="url(#bump)" transform="rotate(-22.8 242.2 1.8)"/>
<ellipse cx="226.8" cy="8.6" rx="24.1" ry="10.7" fill="url(#bump)" transform="rotate(-32.6 226.8 8.6)"/>
<ellipse cx="245.4" cy="-0.8" rx="16.4" ry="9.4" fill="url(#bump)" transform="rotate(0.1 245.4 -0.8)"/>
<ellipse cx="302.2" cy="1.4" rx="21.4" ry="7.4" fill="url(#bump)" transform="rotate(-34.5 302.2 1.4)"/>
<ellipse cx="288.1" cy="3.5" rx="19.7" ry="7.5" fill="url(#bump)" transform="rotate(27.6 288.1 3.5)"/>
<ellipse cx="305.5" cy="7.2" rx="16.5" ry="7.8" fill="url(#bump)" transform="rotate(2.1 305.5 7.2)"/>
<ellipse cx="-22.0" cy="24.0" rx="24.0" ry="10.4" fill="url(#bump)" transform="rotate(-19.2 -22.0 24.0)"/>
<ellipse cx="-3.2" cy="27.3" rx="21.8" ry="7.3" fill="url(#bump)" transform="rotate(-33.8 -3.2 27.3)"/>
<ellipse cx="-4.1" cy="26.0" rx="17.9" ry="7.2" fill="url(#bump)" transform="rotate(18.1 -4.1 26.0)"/>
<ellipse cx="49.8" cy="24.6" rx="20.7" ry="10.2" fill="url(#bump)" transform="rotate(8.4 49.8 24.6)"/>
<ellipse cx="32.7" cy="21.2" rx="19.0" ry="9.5" fill="url(#bump)" transform="rotate(-10.3 32.7 21.2)"/>
<ellipse cx="52.5" cy="19.2" rx="21.1" ry="9.7" fill="url(#bump)" transform="rotate(-30.3 52.5 19.2)"/>
<ellipse cx="84.3" cy="21.2" rx="16.4" ry="9.0" fill="url(#bump)" transform="rotate(-30.9 84.3 21.2)"/>
<ellipse cx="102.0" cy="25.0" rx="17.0" ry="10.7" fill="url(#bump)" transform="rotate(-23.9 102.0 25.0)"/>
<ellipse cx="96.9" cy="22.6" rx="23.3" ry="9.1" fill="url(#bump)" transform="rotate(13.4 96.9 22.6)"/>
<ellipse cx="137.3" cy="26.8" rx="16.4" ry="8.4" fill="url(#bump)" transform="rotate(-20.0 137.3 26.8)"/>
<ellipse cx="153.7" cy="24.8" rx="23.1" ry="9.0" fill="url(#bump)" transform="rotate(-22.8 153.7 24.8)"/>
<ellipse cx="140.3" cy="27.0" rx="25.1" ry="9.7" fill="url(#bump)" transform="rotate(21.5 140.3 27.0)"/>
<ellipse cx="199.3" cy="26.3" rx="21.3" ry="10.6" fill="url(#bump)" transform="rotate(28.2 199.3 26.3)"/>
<ellipse cx="226.4" cy="22.4" rx="25.4" ry="10.2" fill="url(#bump)" transform="rotate(30.9 226.4 22.4)"/>
<ellipse cx="191.9" cy="22.0" rx="22.1" ry="10.0" fill="url(#bump)" transform="rotate(8.0 191.9 22.0)"/>
<ellipse cx="271.8" cy="20.1" rx="21.4" ry="10.5" fill="url(#bump)" transform="rotate(30.2 271.8 20.1)"/>
<ellipse cx="255.9" cy="28.5" rx="23.8" ry="10.0" fill="url(#bump)" transform="rotate(3.8 255.9 28.5)"/>
<ellipse cx="280.3" cy="22.1" rx="20.1" ry="7.7" fill="url(#bump)" transform="rotate(-29.2 280.3 22.1)"/>
<ellipse cx="324.9" cy="26.6" rx="17.3" ry="7.1" fill="url(#bump)" transform="rotate(-9.6 324.9 26.6)"/>
<ellipse cx="320.7" cy="24.3" rx="22.7" ry="7.8" fill="url(#bump)" transform="rotate(-33.2 320.7 24.3)"/>
<ellipse cx="309.4" cy="27.8" rx="25.0" ry="9.1" fill="url(#bump)" transform="rotate(1.6 309.4 27.8)"/>
<ellipse cx="-60.6" cy="40.4" rx="22.4" ry="10.1" fill="url(#bump)" transform="rotate(-5.3 -60.6 40.4)"/>
<ellipse cx="-38.0" cy="44.5" rx="20.3" ry="8.5" fill="url(#bump)" transform="rotate(-17.3 -38.0 44.5)"/>
<ellipse cx="-47.4" cy="40.7" rx="20.6" ry="7.1" fill="url(#bump)" transform="rotate(2.6 -47.4 40.7)"/>
<ellipse cx="21.6" cy="43.9" rx="23.4" ry="9.9" fill="url(#bump)" transform="rotate(21.2 21.6 43.9)"/>
<ellipse cx="27.8" cy="41.8" rx="16.0" ry="9.7" fill="url(#bump)" transform="rotate(-7.4 27.8 41.8)"/>
<ellipse cx="12.9" cy="43.8" rx="18.0" ry="7.9" fill="url(#bump)" transform="rotate(34.8 12.9 43.8)"/>
<ellipse cx="75.4" cy="46.1" rx="16.5" ry="8.5" fill="url(#bump)" transform="rotate(-1.2 75.4 46.1)"/>
<ellipse cx="78.7" cy="43.0" rx="19.9" ry="9.5" fill="url(#bump)" transform="rotate(-2.7 78.7 43.0)"/>
<ellipse cx="70.5" cy="44.9" rx="23.5" ry="8.5" fill="url(#bump)" transform="rotate(25.6 70.5 44.9)"/>
<ellipse cx="115.0" cy="45.8" rx="25.3" ry="7.8" fill="url(#bump)" transform="rotate(20.5 115.0 45.8)"/>
<ellipse cx="136.5" cy="46.9" rx="19.1" ry="9.5" fill="url(#bump)" transform="rotate(-29.6 136.5 46.9)"/>
<ellipse cx="111.3" cy="46.3" rx="22.8" ry="8.2" fill="url(#bump)" transform="rotate(-16.5 111.3 46.3)"/>
<ellipse cx="170.9" cy="40.1" rx="23.1" ry="7.9" fill="url(#bump)" transform="rotate(-0.2 170.9 40.1)"/>
<ellipse cx="187.7" cy="41.4" rx="19.7" ry="7.8" fill="url(#bump)" transform="rotate(10.4 187.7 41.4)"/>
<ellipse cx="168.1" cy="38.6" rx="20.1" ry="7.5" fill="url(#bump)" transform="rotate(13.7 168.1 38.6)"/>
<ellipse cx="251.7" cy="44.5" rx="23.2" ry="9.4" fill="url(#bump)" transform="rotate(-33.5 251.7 44.5)"/>
<ellipse cx="236.0" cy="43.0" rx="19.7" ry="9.5" fill="url(#bump)" transform="rotate(32.4 236.0 43.0)"/>
<ellipse cx="242.9" cy="41.7" rx="23.5" ry="9.5" fill="url(#bump)" transform="rotate(-10.8 242.9 41.7)"/>
<ellipse cx="293.4" cy="43.1" rx="23.9" ry="7.1" fill="url(#bump)" transform="rotate(-19.4 293.4 43.1)"/>
<ellipse cx="300.2" cy="42.5" rx="21.9" ry="9.3" fill="url(#bump)" transform="rotate(-19.5 300.2 42.5)"/>
<ellipse cx="280.1" cy="42.9" rx="24.0" ry="8.3" fill="url(#bump)" transform="rotate(-23.4 280.1 42.9)"/>
<ellipse cx="-24.7" cy="59.7" rx="17.9" ry="7.6" fill="url(#bump)" transform="rotate(-31.6 -24.7 59.7)"/>
<ellipse cx="-14.0" cy="66.0" rx="17.1" ry="9.1" fill="url(#bump)" transform="rotate(-19.5 -14.0 66.0)"/>
<ellipse cx="-32.3" cy="61.6" rx="18.0" ry="9.8" fill="url(#bump)" transform="rotate(18.3 -32.3 61.6)"/>
<ellipse cx="39.9" cy="58.3" rx="22.0" ry="7.4" fill="url(#bump)" transform="rotate(-18.0 39.9 58.3)"/>
<ellipse cx="27.8" cy="63.3" rx="21.2" ry="9.7" fill="url(#bump)" transform="rotate(22.3 27.8 63.3)"/>
<ellipse cx="20.8" cy="60.5" rx="25.1" ry="8.4" fill="url(#bump)" transform="rotate(-12.7 20.8 60.5)"/>
<ellipse cx="105.8" cy="57.8" rx="24.9" ry="10.1" fill="url(#bump)" transform="rotate(-0.1 105.8 57.8)"/>
<ellipse cx="98.4" cy="59.3" rx="16.8" ry="10.9" fill="url(#bump)" transform="rotate(29.8 98.4 59.3)"/>
<ellipse cx="105.4" cy="64.7" rx="17.6" ry="8.4" fill="url(#bump)" transform="rotate(2.1 105.4 64.7)"/>
<ellipse cx="158.4" cy="64.1" rx="24.0" ry="7.2" fill="url(#bump)" transform="rotate(-7.7 158.4 64.1)"/>
<ellipse cx="144.8" cy="58.4" rx="23.9" ry="10.0" fill="url(#bump)" transform="rotate(-12.3 144.8 58.4)"/>
<ellipse cx="139.9" cy="60.6" rx="22.6" ry="8.8" fill="url(#bump)" transform="rotate(-27.2 139.9 60.6)"/>
<ellipse cx="199.8" cy="61.2" rx="20.3" ry="9.8" fill="url(#bump)" transform="rotate(25.6 199.8 61.2)"/>
<ellipse cx="214.1" cy="62.2" rx="19.6" ry="7.8" fill="url(#bump)" transform="rotate(3.9 214.1 62.2)"/>
<ellipse cx="209.3" cy="60.5" rx="17.9" ry="10.7" fill="url(#bump)" transform="rotate(-11.9 209.3 60.5)"/>
<ellipse cx="263.8" cy="59.5" rx="18.1" ry="10.5" fill="url(#bump)" transform="rotate(-32.8 263.8 59.5)"/>
<ellipse cx="260.6" cy="64.2" rx="22.5" ry="8.8" fill="url(#bump)" transform="rotate(-18.9 260.6 64.2)"/>
<ellipse cx="275.0" cy="62.8" rx="18.8" ry="9.4" fill="url(#bump)" transform="rotate(-8.7 275.0 62.8)"/>
<ellipse cx="335.4" cy="64.4" rx="19.3" ry="10.6" fill="url(#bump)" transform="rotate(-1.4 335.4 64.4)"/>
<ellipse cx="336.0" cy="59.0" rx="23.7" ry="9.7" fill="url(#bump)" transform="rotate(12.5 336.0 59.0)"/>
<ellipse cx="340.2" cy="66.3" rx="26.0" ry="8.3" fill="url(#bump)" transform="rotate(-17.8 340.2 66.3)"/>
<ellipse cx="-51.3" cy="86.8" rx="20.0" ry="9.5" fill="url(#bump)" transform="rotate(-23.3 -51.3 86.8)"/>
<ellipse cx="-55.2" cy="79.7" rx="22.1" ry="10.0" fill="url(#bump)" transform="rotate(20.6 -55.2 79.7)"/>
<ellipse cx="-36.6" cy="85.7" rx="24.2" ry="10.9" fill="url(#bump)" transform="rotate(27.6 -36.6 85.7)"/>
<ellipse cx="10.0" cy="84.0" rx="25.7" ry="9.6" fill="url(#bump)" transform="rotate(1.0 10.0 84.0)"/>
<ellipse cx="7.5" cy="83.6" rx="17.3" ry="8.5" fill="url(#bump)" transform="rotate(-14.4 7.5 83.6)"/>
<ellipse cx="-3.1" cy="77.0" rx="20.5" ry="10.1" fill="url(#bump)" transform="rotate(-28.5 -3.1 77.0)"/>
<ellipse cx="50.7" cy="83.4" rx="21.1" ry="8.2" fill="url(#bump)" transform="rotate(-27.2 50.7 83.4)"/>
<ellipse cx="65.1" cy="84.1" rx="19.9" ry="9.9" fill="url(#bump)" transform="rotate(-6.1 65.1 84.1)"/>
<ellipse cx="53.2" cy="80.5" rx="24.3" ry="10.9" fill="url(#bump)" transform="rotate(14.1 53.2 80.5)"/>
<ellipse cx="115.3" cy="83.3" rx="23.0" ry="10.4" fill="url(#bump)" transform="rotate(-13.1 115.3 83.3)"/>
<ellipse cx="110.9" cy="80.5" rx="19.5" ry="9.5" fill="url(#bump)" transform="rotate(30.5 110.9 80.5)"/>
<ellipse cx="135.5" cy="79.8" rx="16.0" ry="8.4" fill="url(#bump)" transform="rotate(19.8 135.5 79.8)"/>
<ellipse cx="169.0" cy="80.5" rx="16.3" ry="10.2" fill="url(#bump)" transform="rotate(-20.1 169.0 80.5)"/>
<ellipse cx="169.2" cy="82.7" rx="24.5" ry="10.4" fill="url(#bump)" transform="rotate(3.8 169.2 82.7)"/>
<ellipse cx="185.4" cy="78.7" rx="17.0" ry="10.7" fill="url(#bump)" transform="rotate(18.3 185.4 78.7)"/>
<ellipse cx="231.1" cy="79.5" rx="20.0" ry="10.2" fill="url(#bump)" transform="rotate(-19.8 231.1 79.5)"/>
<ellipse cx="250.8" cy="84.5" rx="18.4" ry="8.3" fill="url(#bump)" transform="rotate(16.1 250.8 84.5)"/>
<ellipse cx="231.0" cy="81.3" rx="26.0" ry="7.3" fill="url(#bump)" transform="rotate(26.2 231.0 81.3)"/>
<ellipse cx="311.7" cy="86.2" rx="22.9" ry="10.1" fill="url(#bump)" transform="rotate(-2.7 311.7 86.2)"/>
<ellipse cx="283.7" cy="83.2" rx="24.8" ry="10.6" fill="url(#bump)" transform="rotate(33.7 283.7 83.2)"/>
<ellipse cx="280.1" cy="84.1" rx="25.1" ry="7.7" fill="url(#bump)" transform="rotate(-0.9 280.1 84.1)"/>
<ellipse cx="-16.7" cy="97.7" rx="23.2" ry="7.1" fill="url(#bump)" transform="rotate(21.3 -16.7 97.7)"/>
<ellipse cx="-25.4" cy="97.9" rx="22.3" ry="7.3" fill="url(#bump)" transform="rotate(9.5 -25.4 97.9)"/>
<ellipse cx="-2.3" cy="106.2" rx="21.7" ry="8.5" fill="url(#bump)" transform="rotate(-4.2 -2.3 106.2)"/>
<ellipse cx="42.3" cy="100.5" rx="23.5" ry="7.7" fill="url(#bump)" transform="rotate(-4.1 42.3 100.5)"/>
<ellipse cx="31.2" cy="104.1" rx="16.7" ry="10.6" fill="url(#bump)" transform="rotate(-19.3 31.2 104.1)"/>
<ellipse cx="26.2" cy="100.6" rx="18.6" ry="8.4" fill="url(#bump)" transform="rotate(-13.1 26.2 100.6)"/>
<ellipse cx="96.8" cy="97.7" rx="16.5" ry="7.3" fill="url(#bump)" transform="rotate(2.3 96.8 97.7)"/>
<ellipse cx="84.8" cy="98.9" rx="18.9" ry="10.3" fill="url(#bump)" transform="rotate(-11.1 84.8 98.9)"/>
<ellipse cx="101.2" cy="101.2" rx="22.9" ry="8.3" fill="url(#bump)" transform="rotate(19.0 101.2 101.2)"/>
<ellipse cx="156.7" cy="104.0" rx="23.5" ry="9.5" fill="url(#bump)" transform="rotate(2.4 156.7 104.0)"/>
<ellipse cx="167.9" cy="99.1" rx="25.8" ry="9.1" fill="url(#bump)" transform="rotate(12.0 167.9 99.1)"/>
<ellipse cx="167.1" cy="97.4" rx="18.7" ry="10.0" fill="url(#bump)" transform="rotate(15.6 167.1 97.4)"/>
<ellipse cx="206.7" cy="101.9" rx="18.6" ry="10.5" fill="url(#bump)" transform="rotate(-17.6 206.7 101.9)"/>
<ellipse cx="214.7" cy="102.8" rx="18.9" ry="10.9" fill="url(#bump)" transform="rotate(-26.9 214.7 102.8)"/>
<ellipse cx="198.8" cy="101.9" rx="21.1" ry="9.2" fill="url(#bump)" transform="rotate(13.8 198.8 101.9)"/>
<ellipse cx="283.4" cy="104.3" rx="20.3" ry="8.7" fill="url(#bump)" transform="rotate(-18.4 283.4 104.3)"/>
<ellipse cx="273.1" cy="103.2" rx="22.9" ry="8.7" fill="url(#bump)" transform="rotate(-16.7 273.1 103.2)"/>
<ellipse cx="249.0" cy="99.4" rx="18.0" ry="9.7" fill="url(#bump)" transform="rotate(-8.6 249.0 99.4)"/>
<ellipse cx="341.2" cy="105.8" rx="24.6" ry="9.0" fill="url(#bump)" transform="rotate(9.1 341.2 105.8)"/>
<ellipse cx="326.6" cy="105.4" rx="19.6" ry="8.5" fill="url(#bump)" transform="rotate(-30.8 326.6 105.4)"/>
<ellipse cx="317.8" cy="100.8" rx="22.8" ry="10.8" fill="url(#bump)" transform="rotate(-31.0 317.8 100.8)"/>
<ellipse cx="-56.6" cy="117.9" rx="24.0" ry="7.9" fill="url(#bump)" transform="rotate(-11.6 -56.6 117.9)"/>
<ellipse cx="-37.2" cy="117.7" rx="23.2" ry="9.7" fill="url(#bump)" transform="rotate(6.7 -37.2 117.7)"/>
<ellipse cx="-62.0" cy="125.6" rx="20.8" ry="10.4" fill="url(#bump)" transform="rotate(24.4 -62.0 125.6)"/>
<ellipse cx="13.6" cy="117.7" rx="24.2" ry="8.9" fill="url(#bump)" transform="rotate(-7.2 13.6 117.7)"/>
<ellipse cx="-6.5" cy="117.7" rx="21.9" ry="9.6" fill="url(#bump)" transform="rotate(-22.0 -6.5 117.7)"/>
<ellipse cx="8.1" cy="120.0" rx="19.4" ry="9.7" fill="url(#bump)" transform="rotate(32.4 8.1 120.0)"/>
<ellipse cx="56.4" cy="121.1" rx="17.1" ry="8.3" fill="url(#bump)" transform="rotate(-22.4 56.4 121.1)"/>
<ellipse cx="53.1" cy="119.8" rx="21.5" ry="10.2" fill="url(#bump)" transform="rotate(10.7 53.1 119.8)"/>
<ellipse cx="66.2" cy="116.8" rx="20.0" ry="10.0" fill="url(#bump)" transform="rotate(15.9 66.2 116.8)"/>
<ellipse cx="141.1" cy="121.2" rx="19.6" ry="9.0" fill="url(#bump)" transform="rotate(-17.5 141.1 121.2)"/>
<ellipse cx="117.5" cy="117.0" rx="22.6" ry="10.3" fill="url(#bump)" transform="rotate(-7.1 117.5 117.0)"/>
<ellipse cx="133.4" cy="124.8" rx="20.1" ry="9.6" fill="url(#bump)" transform="rotate(21.1 133.4 124.8)"/>
<ellipse cx="164.9" cy="123.9" rx="18.7" ry="8.9" fill="url(#bump)" transform="rotate(14.6 164.9 123.9)"/>
<ellipse cx="172.8" cy="124.0" rx="23.8" ry="10.7" fill="url(#bump)" transform="rotate(-5.1 172.8 124.0)"/>
<ellipse cx="191.0" cy="119.8" rx="25.5" ry="10.6" fill="url(#bump)" transform="rotate(-11.0 191.0 119.8)"/>
<ellipse cx="226.8" cy="119.6" rx="23.6" ry="8.1" fill="url(#bump)" transform="rotate(20.2 226.8 119.6)"/>
<ellipse cx="236.1" cy="125.6" rx="18.7" ry="9.7" fill="url(#bump)" transform="rotate(-28.7 236.1 125.6)"/>
<ellipse cx="252.7" cy="125.5" rx="23.9" ry="10.9" fill="url(#bump)" transform="rotate(-2.1 252.7 125.5)"/>
<ellipse cx="288.9" cy="118.3" rx="23.8" ry="7.6" fill="url(#bump)" transform="rotate(-16.8 288.9 118.3)"/>
<ellipse cx="296.7" cy="125.3" rx="22.3" ry="9.1" fill="url(#bump)" transform="rotate(-20.9 296.7 125.3)"/>
<ellipse cx="311.8" cy="121.1" rx="25.0" ry="10.0" fill="url(#bump)" transform="rotate(-0.6 311.8 121.1)"/>
<ellipse cx="-31.3" cy="143.5" rx="25.7" ry="10.9" fill="url(#bump)" transform="rotate(-7.1 -31.3 143.5)"/>
<ellipse cx="-18.7" cy="139.7" rx="18.8" ry="7.8" fill="url(#bump)" transform="rotate(-19.1 -18.7 139.7)"/>
<ellipse cx="-30.4" cy="142.8" rx="22.0" ry="9.4" fill="url(#bump)" transform="rotate(-31.4 -30.4 142.8)"/>
<ellipse cx="47.0" cy="141.2" rx="18.8" ry="7.4" fill="url(#bump)" transform="rotate(29.9 47.0 141.2)"/>
<ellipse cx="41.5" cy="138.2" rx="25.2" ry="9.8" fill="url(#bump)" transform="rotate(34.2 41.5 138.2)"/>
<ellipse cx="50.5" cy="137.9" rx="19.8" ry="8.4" fill="url(#bump)" transform="rotate(-1.1 50.5 137.9)"/>
<ellipse cx="91.0" cy="140.3" rx="16.3" ry="9.2" fill="url(#bump)" transform="rotate(10.8 91.0 140.3)"/>
<ellipse cx="82.1" cy="145.2" rx="21.9" ry="8.3" fill="url(#bump)" transform="rotate(3.6 82.1 145.2)"/>
<ellipse cx="102.9" cy="142.6" rx="21.8" ry="8.1" fill="url(#bump)" transform="rotate(28.7 102.9 142.6)"/>
<ellipse cx="157.1" cy="136.0" rx="19.1" ry="9.9" fill="url(#bump)" transform="rotate(17.1 157.1 136.0)"/>
<ellipse cx="139.2" cy="141.5" rx="16.4" ry="8.1" fill="url(#bump)" transform="rotate(-23.2 139.2 141.5)"/>
<ellipse cx="165.0" cy="139.4" rx="23.9" ry="10.9" fill="url(#bump)" transform="rotate(1.6 165.0 139.4)"/>
<ellipse cx="200.8" cy="142.4" rx="23.9" ry="8.4" fill="url(#bump)" transform="rotate(19.7 200.8 142.4)"/>
<ellipse cx="208.6" cy="143.3" rx="20.9" ry="9.5" fill="url(#bump)" transform="rotate(-17.4 208.6 143.3)"/>
<ellipse cx="222.1" cy="137.9" rx="18.2" ry="7.6" fill="url(#bump)" transform="rotate(11.6 222.1 137.9)"/>
<ellipse cx="265.7" cy="142.0" rx="25.5" ry="7.7" fill="url(#bump)" transform="rotate(9.8 265.7 142.0)"/>
<ellipse cx="267.6" cy="140.3" rx="25.2" ry="7.6" fill="url(#bump)" transform="rotate(-16.9 267.6 140.3)"/>
<ellipse cx="257.9" cy="135.9" rx="22.6" ry="7.9" fill="url(#bump)" transform="rotate(10.1 257.9 135.9)"/>
<ellipse cx="338.7" cy="141.8" rx="25.4" ry="10.4" fill="url(#bump)" transform="rotate(-20.9 338.7 141.8)"/>
<ellipse cx="316.8" cy="144.1" rx="19.5" ry="8.7" fill="url(#bump)" transform="rotate(-25.9 316.8 144.1)"/>
<ellipse cx="339.9" cy="138.5" rx="18.1" ry="10.3" fill="url(#bump)" transform="rotate(-8.0 339.9 138.5)"/>
<ellipse cx="-58.4" cy="163.5" rx="21.5" ry="10.5" fill="url(#bump)" transform="rotate(-11.1 -58.4 163.5)"/>
<ellipse cx="-55.4" cy="160.3" rx="21.8" ry="8.6" fill="url(#bump)" transform="rotate(9.5 -55.4 160.3)"/>
<ellipse cx="-41.7" cy="158.1" rx="16.1" ry="9.4" fill="url(#bump)" transform="rotate(-24.1 -41.7 158.1)"/>
<ellipse cx="12.7" cy="163.0" rx="22.7" ry="8.8" fill="url(#bump)" transform="rotate(-24.0 12.7 163.0)"/>
<ellipse cx="10.9" cy="163.3" rx="20.4" ry="9.6" fill="url(#bump)" transform="rotate(1.3 10.9 163.3)"/>
<ellipse cx="-2.7" cy="163.7" rx="16.4" ry="8.9" fill="url(#bump)" transform="rotate(1.2 -2.7 163.7)"/>
<ellipse cx="83.0" cy="164.8" rx="18.7" ry="10.7" fill="url(#bump)" transform="rotate(-5.2 83.0 164.8)"/>
<ellipse cx="59.2" cy="155.2" rx="20.7" ry="9.7" fill="url(#bump)" transform="rotate(-17.7 59.2 155.2)"/>
<ellipse cx="51.4" cy="158.3" rx="19.4" ry="7.7" fill="url(#bump)" transform="rotate(15.9 51.4 158.3)"/>
<ellipse cx="131.6" cy="159.4" rx="20.8" ry="10.2" fill="url(#bump)" transform="rotate(13.7 131.6 159.4)"/>
<ellipse cx="124.4" cy="164.8" rx="23.2" ry="9.0" fill="url(#bump)" transform="rotate(21.9 124.4 164.8)"/>
<ellipse cx="127.9" cy="158.8" rx="24.8" ry="10.2" fill="url(#bump)" transform="rotate(-29.7 127.9 158.8)"/>
<ellipse cx="190.6" cy="163.6" rx="25.9" ry="8.9" fill="url(#bump)" transform="rotate(3.6 190.6 163.6)"/>
<ellipse cx="198.3" cy="155.8" rx="21.7" ry="10.3" fill="url(#bump)" transform="rotate(-8.5 198.3 155.8)"/>
<ellipse cx="181.7" cy="162.9" rx="22.8" ry="10.2" fill="url(#bump)" transform="rotate(-8.8 181.7 162.9)"/>
<ellipse cx="241.6" cy="155.2" rx="16.0" ry="8.2" fill="url(#bump)" transform="rotate(11.0 241.6 155.2)"/>
<ellipse cx="224.1" cy="162.6" rx="23.2" ry="7.3" fill="url(#bump)" transform="rotate(-23.2 224.1 162.6)"/>
<ellipse cx="227.5" cy="162.0" rx="16.7" ry="9.5" fill="url(#bump)" transform="rotate(29.7 227.5 162.0)"/>
<ellipse cx="291.3" cy="161.2" rx="16.2" ry="7.3" fill="url(#bump)" transform="rotate(-29.6 291.3 161.2)"/>
<ellipse cx="309.1" cy="159.9" rx="17.3" ry="9.7" fill="url(#bump)" transform="rotate(7.9 309.1 159.9)"/>
<ellipse cx="309.4" cy="157.0" rx="24.5" ry="11.0" fill="url(#bump)" transform="rotate(19.6 309.4 157.0)"/>
</svg>
<rect x="59.00" y="539.70" width="2.00" height="12.20" fill="#d0d4d8"/>
<rect x="59.00" y="579.70" width="2.00" height="8.70" fill="#d0d4d8"/>
<rect x="59.00" y="619.00" width="2.00" height="10.50" fill="#d0d4d8"/>
<rect x="59.00" y="654.60" width="2.00" height="15.70" fill="#d0d4d8"/>
<rect x="117.50" y="521.30" width="2.00" height="7.70" fill="#d0d4d8"/>
<rect x="117.50" y="553.60" width="2.00" height="17.40" fill="#d0d4d8"/>
<rect x="117.50" y="597.00" width="2.00" height="12.30" fill="#d0d4d8"/>
<rect x="117.50" y="637.20" width="2.00" height="15.70" fill="#d0d4d8"/>
<rect x="173.00" y="536.00" width="2.00" height="12.40" fill="#d0d4d8"/>
<rect x="173.00" y="574.50" width="2.00" height="13.90" fill="#d0d4d8"/>
<rect x="173.00" y="614.50" width="2.00" height="14.00" fill="#d0d4d8"/>
<rect x="173.00" y="656.30" width="2.00" height="14.30" fill="#d0d4d8"/>
<rect x="229.00" y="521.30" width="2.00" height="13.10" fill="#d0d4d8"/>
<rect x="229.00" y="558.80" width="2.00" height="15.70" fill="#d0d4d8"/>
<rect x="229.00" y="594.70" width="2.00" height="18.10" fill="#d0d4d8"/>
<rect x="229.00" y="637.20" width="2.00" height="12.20" fill="#d0d4d8"/>
<rect x="37.00" y="538.50" width="22.00" height="1.50" fill="#8a949c" fill-opacity="0.5"/>
<rect x="155.00" y="534.50" width="17.00" height="1.50" fill="#a0a8b0" fill-opacity="0.5"/>
<rect x="178.00" y="534.50" width="36.00" height="1.50" fill="#a0a8b0" fill-opacity="0.5"/>
<rect x="120.00" y="651.50" width="36.00" height="2.00" fill="#9aa2aa" fill-opacity="0.45"/>
<text x="283.9" y="495.6" font-size="19.5" font-weight="bold" fill="#111" stroke="#111" stroke-width="0.28">H</text>
<defs><linearGradient id="cbar" x1="0" x2="0" y1="1" y2="0"><stop offset="0" stop-color="#fefad0"/><stop offset="0.15" stop-color="#fde3a2"/><stop offset="0.35" stop-color="#f9b660"/><stop offset="0.55" stop-color="#f07a45"/><stop offset="0.75" stop-color="#de3e34"/><stop offset="0.88" stop-color="#b5302a"/><stop offset="1" stop-color="#6b3a26"/></linearGradient></defs>
<rect x="283.50" y="541.30" width="9.20" height="111.00" fill="url(#cbar)" stroke="#333" stroke-width="0.8"/>
<line x1="292.70" y1="552.20" x2="290.20" y2="552.20" stroke="#333" stroke-width="0.8"/>
<text x="298.5" y="557.6" font-size="15" fill="#111" stroke="#111" stroke-width="0.28">0.9</text>
<line x1="292.70" y1="586.20" x2="290.20" y2="586.20" stroke="#333" stroke-width="0.8"/>
<text x="298.5" y="591.6" font-size="15" fill="#111" stroke="#111" stroke-width="0.28">0.6</text>
<line x1="292.70" y1="619.50" x2="290.20" y2="619.50" stroke="#333" stroke-width="0.8"/>
<text x="298.5" y="624.9" font-size="15" fill="#111" stroke="#111" stroke-width="0.28">0.3</text>
<line x1="292.70" y1="652.40" x2="290.20" y2="652.40" stroke="#333" stroke-width="0.8"/>
<text x="298.5" y="657.8" font-size="15" fill="#111" stroke="#111" stroke-width="0.28">0.0</text>
<text x="282" y="530.5" font-size="14" fill="#111" stroke="#111" stroke-width="0.28">ΔV<tspan font-size="10.5" dy="3.5">oc</tspan></text>
<rect x="339.90" y="515.90" width="16.62" height="52.50" fill="#fbf3c3"/>
<rect x="356.22" y="515.90" width="16.62" height="52.50" fill="#f5a852"/>
<rect x="372.55" y="515.90" width="16.62" height="52.50" fill="#f07e43"/>
<rect x="388.88" y="515.90" width="16.62" height="52.50" fill="#e4482f"/>
<rect x="405.20" y="515.90" width="16.62" height="52.50" fill="#fad89b"/>
<rect x="421.52" y="515.90" width="16.62" height="52.50" fill="#fbe0a8"/>
<rect x="437.85" y="515.90" width="16.62" height="52.50" fill="#fcecbc"/>
<rect x="454.17" y="515.90" width="16.62" height="52.50" fill="#f8d08e"/>
<rect x="339.9" y="515.9" width="130.6" height="52.5" fill="none" stroke="#333" stroke-width="1"/>
<line x1="348.06" y1="568.40" x2="348.06" y2="570.90" stroke="#333" stroke-width="0.8"/>
<line x1="364.39" y1="568.40" x2="364.39" y2="570.90" stroke="#333" stroke-width="0.8"/>
<line x1="380.71" y1="568.40" x2="380.71" y2="570.90" stroke="#333" stroke-width="0.8"/>
<line x1="397.04" y1="568.40" x2="397.04" y2="570.90" stroke="#333" stroke-width="0.8"/>
<line x1="413.36" y1="568.40" x2="413.36" y2="570.90" stroke="#333" stroke-width="0.8"/>
<line x1="429.69" y1="568.40" x2="429.69" y2="570.90" stroke="#333" stroke-width="0.8"/>
<line x1="446.01" y1="568.40" x2="446.01" y2="570.90" stroke="#333" stroke-width="0.8"/>
<line x1="462.34" y1="568.40" x2="462.34" y2="570.90" stroke="#333" stroke-width="0.8"/>
<line x1="339.90" y1="542.15" x2="342.40" y2="542.15" stroke="#333" stroke-width="0.8"/>
<text x="348.1" y="583.7" font-size="13.5" text-anchor="middle" fill="#111" stroke="#111" stroke-width="0.28">1</text>
<text x="364.45000000000005" y="583.7" font-size="13.5" text-anchor="middle" fill="#111" stroke="#111" stroke-width="0.28">2</text>
<text x="380.8" y="583.7" font-size="13.5" text-anchor="middle" fill="#111" stroke="#111" stroke-width="0.28">3</text>
<text x="397.15000000000003" y="583.7" font-size="13.5" text-anchor="middle" fill="#111" stroke="#111" stroke-width="0.28">4</text>
<text x="413.5" y="583.7" font-size="13.5" text-anchor="middle" fill="#111" stroke="#111" stroke-width="0.28">5</text>
<text x="429.85" y="583.7" font-size="13.5" text-anchor="middle" fill="#111" stroke="#111" stroke-width="0.28">6</text>
<text x="446.20000000000005" y="583.7" font-size="13.5" text-anchor="middle" fill="#111" stroke="#111" stroke-width="0.28">7</text>
<text x="462.55000000000007" y="583.7" font-size="13.5" text-anchor="middle" fill="#111" stroke="#111" stroke-width="0.28">8</text>
<rect x="342.60" y="617.00" width="16.69" height="51.40" fill="#fcf5c6"/>
<rect x="358.99" y="617.00" width="16.69" height="51.40" fill="#fbebb7"/>
<rect x="375.38" y="617.00" width="16.69" height="51.40" fill="#fbebb7"/>
<rect x="391.76" y="617.00" width="16.69" height="51.40" fill="#ef7c3d"/>
<rect x="408.15" y="617.00" width="16.69" height="51.40" fill="#f6a74e"/>
<rect x="424.54" y="617.00" width="16.69" height="51.40" fill="#ef7e3e"/>
<rect x="440.93" y="617.00" width="16.69" height="51.40" fill="#f8b860"/>
<rect x="457.31" y="617.00" width="16.69" height="51.40" fill="#c7342b"/>
<rect x="342.6" y="617" width="131.1" height="51.4" fill="none" stroke="#333" stroke-width="1"/>
<line x1="350.79" y1="668.40" x2="350.79" y2="670.90" stroke="#333" stroke-width="0.8"/>
<line x1="367.18" y1="668.40" x2="367.18" y2="670.90" stroke="#333" stroke-width="0.8"/>
<line x1="383.57" y1="668.40" x2="383.57" y2="670.90" stroke="#333" stroke-width="0.8"/>
<line x1="399.96" y1="668.40" x2="399.96" y2="670.90" stroke="#333" stroke-width="0.8"/>
<line x1="416.34" y1="668.40" x2="416.34" y2="670.90" stroke="#333" stroke-width="0.8"/>
<line x1="432.73" y1="668.40" x2="432.73" y2="670.90" stroke="#333" stroke-width="0.8"/>
<line x1="449.12" y1="668.40" x2="449.12" y2="670.90" stroke="#333" stroke-width="0.8"/>
<line x1="465.51" y1="668.40" x2="465.51" y2="670.90" stroke="#333" stroke-width="0.8"/>
<line x1="342.60" y1="642.70" x2="345.10" y2="642.70" stroke="#333" stroke-width="0.8"/>
<text x="350.8" y="685.8" font-size="13.5" text-anchor="middle" fill="#111" stroke="#111" stroke-width="0.28">1</text>
<text x="367.2" y="685.8" font-size="13.5" text-anchor="middle" fill="#111" stroke="#111" stroke-width="0.28">2</text>
<text x="383.6" y="685.8" font-size="13.5" text-anchor="middle" fill="#111" stroke="#111" stroke-width="0.28">3</text>
<text x="400.0" y="685.8" font-size="13.5" text-anchor="middle" fill="#111" stroke="#111" stroke-width="0.28">4</text>
<text x="416.4" y="685.8" font-size="13.5" text-anchor="middle" fill="#111" stroke="#111" stroke-width="0.28">5</text>
<text x="432.8" y="685.8" font-size="13.5" text-anchor="middle" fill="#111" stroke="#111" stroke-width="0.28">6</text>
<text x="449.2" y="685.8" font-size="13.5" text-anchor="middle" fill="#111" stroke="#111" stroke-width="0.28">7</text>
<text x="465.6" y="685.8" font-size="13.5" text-anchor="middle" fill="#111" stroke="#111" stroke-width="0.28">8</text>
<svg x="479.3" y="515.6" width="85" height="37.7" overflow="hidden">
<rect x="0.00" y="0.00" width="85.00" height="37.70" fill="#141414"/>
<ellipse cx="0" cy="2" rx="4" ry="2" fill="#3c3c3c" fill-opacity="0.8"/>
<rect x="3.50" y="0.00" width="1.00" height="3.00" fill="#cfcfcf"/>
<ellipse cx="8" cy="2" rx="4" ry="2" fill="#3c3c3c" fill-opacity="0.8"/>
<rect x="11.50" y="0.00" width="1.00" height="3.00" fill="#cfcfcf"/>
<ellipse cx="16" cy="2" rx="4" ry="2" fill="#3c3c3c" fill-opacity="0.8"/>
<ellipse cx="24" cy="2" rx="4" ry="2" fill="#3c3c3c" fill-opacity="0.8"/>
<rect x="27.50" y="0.00" width="1.00" height="3.00" fill="#cfcfcf"/>
<ellipse cx="32" cy="2" rx="4" ry="2" fill="#3c3c3c" fill-opacity="0.8"/>
<rect x="35.50" y="0.00" width="1.00" height="3.00" fill="#cfcfcf"/>
<ellipse cx="40" cy="2" rx="4" ry="2" fill="#3c3c3c" fill-opacity="0.8"/>
<rect x="43.50" y="0.00" width="1.00" height="3.00" fill="#cfcfcf"/>
<ellipse cx="48" cy="2" rx="4" ry="2" fill="#3c3c3c" fill-opacity="0.8"/>
<rect x="51.50" y="0.00" width="1.00" height="3.00" fill="#cfcfcf"/>
<ellipse cx="56" cy="2" rx="4" ry="2" fill="#3c3c3c" fill-opacity="0.8"/>
<rect x="59.50" y="0.00" width="1.00" height="3.00" fill="#cfcfcf"/>
<ellipse cx="64" cy="2" rx="4" ry="2" fill="#3c3c3c" fill-opacity="0.8"/>
<ellipse cx="72" cy="2" rx="4" ry="2" fill="#3c3c3c" fill-opacity="0.8"/>
<ellipse cx="80" cy="2" rx="4" ry="2" fill="#3c3c3c" fill-opacity="0.8"/>
<rect x="83.50" y="0.00" width="1.00" height="3.00" fill="#cfcfcf"/>
<ellipse cx="88" cy="2" rx="4" ry="2" fill="#3c3c3c" fill-opacity="0.8"/>
<rect x="91.50" y="0.00" width="1.00" height="3.00" fill="#cfcfcf"/>
<ellipse cx="4" cy="7" rx="4" ry="2" fill="#3c3c3c" fill-opacity="0.8"/>
<rect x="7.50" y="5.00" width="1.00" height="3.00" fill="#cfcfcf"/>
<ellipse cx="12" cy="7" rx="4" ry="2" fill="#3c3c3c" fill-opacity="0.8"/>
<ellipse cx="20" cy="7" rx="4" ry="2" fill="#3c3c3c" fill-opacity="0.8"/>
<ellipse cx="28" cy="7" rx="4" ry="2" fill="#3c3c3c" fill-opacity="0.8"/>
<rect x="31.50" y="5.00" width="1.00" height="3.00" fill="#cfcfcf"/>
<ellipse cx="36" cy="7" rx="4" ry="2" fill="#3c3c3c" fill-opacity="0.8"/>
<ellipse cx="44" cy="7" rx="4" ry="2" fill="#3c3c3c" fill-opacity="0.8"/>
<ellipse cx="52" cy="7" rx="4" ry="2" fill="#3c3c3c" fill-opacity="0.8"/>
<ellipse cx="60" cy="7" rx="4" ry="2" fill="#3c3c3c" fill-opacity="0.8"/>
<ellipse cx="68" cy="7" rx="4" ry="2" fill="#3c3c3c" fill-opacity="0.8"/>
<rect x="71.50" y="5.00" width="1.00" height="3.00" fill="#cfcfcf"/>
<ellipse cx="76" cy="7" rx="4" ry="2" fill="#3c3c3c" fill-opacity="0.8"/>
<rect x="79.50" y="5.00" width="1.00" height="3.00" fill="#cfcfcf"/>
<ellipse cx="84" cy="7" rx="4" ry="2" fill="#3c3c3c" fill-opacity="0.8"/>
<rect x="87.50" y="5.00" width="1.00" height="3.00" fill="#cfcfcf"/>
<ellipse cx="92" cy="7" rx="4" ry="2" fill="#3c3c3c" fill-opacity="0.8"/>
<rect x="95.50" y="5.00" width="1.00" height="3.00" fill="#cfcfcf"/>
<ellipse cx="0" cy="12" rx="4" ry="2" fill="#3c3c3c" fill-opacity="0.8"/>
<rect x="3.50" y="10.00" width="1.00" height="3.00" fill="#cfcfcf"/>
<ellipse cx="8" cy="12" rx="4" ry="2" fill="#3c3c3c" fill-opacity="0.8"/>
<rect x="11.50" y="10.00" width="1.00" height="3.00" fill="#cfcfcf"/>
<ellipse cx="16" cy="12" rx="4" ry="2" fill="#3c3c3c" fill-opacity="0.8"/>
<rect x="19.50" y="10.00" width="1.00" height="3.00" fill="#cfcfcf"/>
<ellipse cx="24" cy="12" rx="4" ry="2" fill="#3c3c3c" fill-opacity="0.8"/>
<rect x="27.50" y="10.00" width="1.00" height="3.00" fill="#cfcfcf"/>
<ellipse cx="32" cy="12" rx="4" ry="2" fill="#3c3c3c" fill-opacity="0.8"/>
<rect x="35.50" y="10.00" width="1.00" height="3.00" fill="#cfcfcf"/>
<ellipse cx="40" cy="12" rx="4" ry="2" fill="#3c3c3c" fill-opacity="0.8"/>
<ellipse cx="48" cy="12" rx="4" ry="2" fill="#3c3c3c" fill-opacity="0.8"/>
<rect x="51.50" y="10.00" width="1.00" height="3.00" fill="#cfcfcf"/>
<ellipse cx="56" cy="12" rx="4" ry="2" fill="#3c3c3c" fill-opacity="0.8"/>
<ellipse cx="64" cy="12" rx="4" ry="2" fill="#3c3c3c" fill-opacity="0.8"/>
<rect x="67.50" y="10.00" width="1.00" height="3.00" fill="#cfcfcf"/>
<ellipse cx="72" cy="12" rx="4" ry="2" fill="#3c3c3c" fill-opacity="0.8"/>
<ellipse cx="80" cy="12" rx="4" ry="2" fill="#3c3c3c" fill-opacity="0.8"/>
<rect x="83.50" y="10.00" width="1.00" height="3.00" fill="#cfcfcf"/>
<ellipse cx="88" cy="12" rx="4" ry="2" fill="#3c3c3c" fill-opacity="0.8"/>
<rect x="91.50" y="10.00" width="1.00" height="3.00" fill="#cfcfcf"/>
<ellipse cx="4" cy="17" rx="4" ry="2" fill="#3c3c3c" fill-opacity="0.8"/>
<ellipse cx="12" cy="17" rx="4" ry="2" fill="#3c3c3c" fill-opacity="0.8"/>
<ellipse cx="20" cy="17" rx="4" ry="2" fill="#3c3c3c" fill-opacity="0.8"/>
<ellipse cx="28" cy="17" rx="4" ry="2" fill="#3c3c3c" fill-opacity="0.8"/>
<ellipse cx="36" cy="17" rx="4" ry="2" fill="#3c3c3c" fill-opacity="0.8"/>
<rect x="39.50" y="15.00" width="1.00" height="3.00" fill="#cfcfcf"/>
<ellipse cx="44" cy="17" rx="4" ry="2" fill="#3c3c3c" fill-opacity="0.8"/>
<rect x="47.50" y="15.00" width="1.00" height="3.00" fill="#cfcfcf"/>
<ellipse cx="52" cy="17" rx="4" ry="2" fill="#3c3c3c" fill-opacity="0.8"/>
<rect x="55.50" y="15.00" width="1.00" height="3.00" fill="#cfcfcf"/>
<ellipse cx="60" cy="17" rx="4" ry="2" fill="#3c3c3c" fill-opacity="0.8"/>
<rect x="63.50" y="15.00" width="1.00" height="3.00" fill="#cfcfcf"/>
<ellipse cx="68" cy="17" rx="4" ry="2" fill="#3c3c3c" fill-opacity="0.8"/>
<ellipse cx="76" cy="17" rx="4" ry="2" fill="#3c3c3c" fill-opacity="0.8"/>
<rect x="79.50" y="15.00" width="1.00" height="3.00" fill="#cfcfcf"/>
<ellipse cx="84" cy="17" rx="4" ry="2" fill="#3c3c3c" fill-opacity="0.8"/>
<ellipse cx="92" cy="17" rx="4" ry="2" fill="#3c3c3c" fill-opacity="0.8"/>
<rect x="95.50" y="15.00" width="1.00" height="3.00" fill="#cfcfcf"/>
<ellipse cx="0" cy="22" rx="4" ry="2" fill="#3c3c3c" fill-opacity="0.8"/>
<ellipse cx="8" cy="22" rx="4" ry="2" fill="#3c3c3c" fill-opacity="0.8"/>
<ellipse cx="16" cy="22" rx="4" ry="2" fill="#3c3c3c" fill-opacity="0.8"/>
<rect x="19.50" y="20.00" width="1.00" height="3.00" fill="#cfcfcf"/>
<ellipse cx="24" cy="22" rx="4" ry="2" fill="#3c3c3c" fill-opacity="0.8"/>
<rect x="27.50" y="20.00" width="1.00" height="3.00" fill="#cfcfcf"/>
<ellipse cx="32" cy="22" rx="4" ry="2" fill="#3c3c3c" fill-opacity="0.8"/>
<ellipse cx="40" cy="22" rx="4" ry="2" fill="#3c3c3c" fill-opacity="0.8"/>
<rect x="43.50" y="20.00" width="1.00" height="3.00" fill="#cfcfcf"/>
<ellipse cx="48" cy="22" rx="4" ry="2" fill="#3c3c3c" fill-opacity="0.8"/>
<ellipse cx="56" cy="22" rx="4" ry="2" fill="#3c3c3c" fill-opacity="0.8"/>
<rect x="59.50" y="20.00" width="1.00" height="3.00" fill="#cfcfcf"/>
<ellipse cx="64" cy="22" rx="4" ry="2" fill="#3c3c3c" fill-opacity="0.8"/>
<rect x="67.50" y="20.00" width="1.00" height="3.00" fill="#cfcfcf"/>
<ellipse cx="72" cy="22" rx="4" ry="2" fill="#3c3c3c" fill-opacity="0.8"/>
<ellipse cx="80" cy="22" rx="4" ry="2" fill="#3c3c3c" fill-opacity="0.8"/>
<ellipse cx="88" cy="22" rx="4" ry="2" fill="#3c3c3c" fill-opacity="0.8"/>
<rect x="91.50" y="20.00" width="1.00" height="3.00" fill="#cfcfcf"/>
<ellipse cx="4" cy="27" rx="4" ry="2" fill="#3c3c3c" fill-opacity="0.8"/>
<rect x="7.50" y="25.00" width="1.00" height="3.00" fill="#cfcfcf"/>
<ellipse cx="12" cy="27" rx="4" ry="2" fill="#3c3c3c" fill-opacity="0.8"/>
<rect x="15.50" y="25.00" width="1.00" height="3.00" fill="#cfcfcf"/>
<ellipse cx="20" cy="27" rx="4" ry="2" fill="#3c3c3c" fill-opacity="0.8"/>
<ellipse cx="28" cy="27" rx="4" ry="2" fill="#3c3c3c" fill-opacity="0.8"/>
<ellipse cx="36" cy="27" rx="4" ry="2" fill="#3c3c3c" fill-opacity="0.8"/>
<rect x="39.50" y="25.00" width="1.00" height="3.00" fill="#cfcfcf"/>
<ellipse cx="44" cy="27" rx="4" ry="2" fill="#3c3c3c" fill-opacity="0.8"/>
<rect x="47.50" y="25.00" width="1.00" height="3.00" fill="#cfcfcf"/>
<ellipse cx="52" cy="27" rx="4" ry="2" fill="#3c3c3c" fill-opacity="0.8"/>
<rect x="55.50" y="25.00" width="1.00" height="3.00" fill="#cfcfcf"/>
<ellipse cx="60" cy="27" rx="4" ry="2" fill="#3c3c3c" fill-opacity="0.8"/>
<rect x="63.50" y="25.00" width="1.00" height="3.00" fill="#cfcfcf"/>
<ellipse cx="68" cy="27" rx="4" ry="2" fill="#3c3c3c" fill-opacity="0.8"/>
<ellipse cx="76" cy="27" rx="4" ry="2" fill="#3c3c3c" fill-opacity="0.8"/>
<rect x="79.50" y="25.00" width="1.00" height="3.00" fill="#cfcfcf"/>
<ellipse cx="84" cy="27" rx="4" ry="2" fill="#3c3c3c" fill-opacity="0.8"/>
<rect x="87.50" y="25.00" width="1.00" height="3.00" fill="#cfcfcf"/>
<ellipse cx="92" cy="27" rx="4" ry="2" fill="#3c3c3c" fill-opacity="0.8"/>
<rect x="95.50" y="25.00" width="1.00" height="3.00" fill="#cfcfcf"/>
<ellipse cx="0" cy="32" rx="4" ry="2" fill="#3c3c3c" fill-opacity="0.8"/>
<rect x="3.50" y="30.00" width="1.00" height="3.00" fill="#cfcfcf"/>
<ellipse cx="8" cy="32" rx="4" ry="2" fill="#3c3c3c" fill-opacity="0.8"/>
<ellipse cx="16" cy="32" rx="4" ry="2" fill="#3c3c3c" fill-opacity="0.8"/>
<rect x="19.50" y="30.00" width="1.00" height="3.00" fill="#cfcfcf"/>
<ellipse cx="24" cy="32" rx="4" ry="2" fill="#3c3c3c" fill-opacity="0.8"/>
<ellipse cx="32" cy="32" rx="4" ry="2" fill="#3c3c3c" fill-opacity="0.8"/>
<rect x="35.50" y="30.00" width="1.00" height="3.00" fill="#cfcfcf"/>
<ellipse cx="40" cy="32" rx="4" ry="2" fill="#3c3c3c" fill-opacity="0.8"/>
<rect x="43.50" y="30.00" width="1.00" height="3.00" fill="#cfcfcf"/>
<ellipse cx="48" cy="32" rx="4" ry="2" fill="#3c3c3c" fill-opacity="0.8"/>
<rect x="51.50" y="30.00" width="1.00" height="3.00" fill="#cfcfcf"/>
<ellipse cx="56" cy="32" rx="4" ry="2" fill="#3c3c3c" fill-opacity="0.8"/>
<rect x="59.50" y="30.00" width="1.00" height="3.00" fill="#cfcfcf"/>
<ellipse cx="64" cy="32" rx="4" ry="2" fill="#3c3c3c" fill-opacity="0.8"/>
<ellipse cx="72" cy="32" rx="4" ry="2" fill="#3c3c3c" fill-opacity="0.8"/>
<ellipse cx="80" cy="32" rx="4" ry="2" fill="#3c3c3c" fill-opacity="0.8"/>
<rect x="83.50" y="30.00" width="1.00" height="3.00" fill="#cfcfcf"/>
<ellipse cx="88" cy="32" rx="4" ry="2" fill="#3c3c3c" fill-opacity="0.8"/>
<ellipse cx="4" cy="37" rx="4" ry="2" fill="#3c3c3c" fill-opacity="0.8"/>
<rect x="7.50" y="35.00" width="1.00" height="3.00" fill="#cfcfcf"/>
<ellipse cx="12" cy="37" rx="4" ry="2" fill="#3c3c3c" fill-opacity="0.8"/>
<rect x="15.50" y="35.00" width="1.00" height="3.00" fill="#cfcfcf"/>
<ellipse cx="20" cy="37" rx="4" ry="2" fill="#3c3c3c" fill-opacity="0.8"/>
<ellipse cx="28" cy="37" rx="4" ry="2" fill="#3c3c3c" fill-opacity="0.8"/>
<ellipse cx="36" cy="37" rx="4" ry="2" fill="#3c3c3c" fill-opacity="0.8"/>
<rect x="39.50" y="35.00" width="1.00" height="3.00" fill="#cfcfcf"/>
<ellipse cx="44" cy="37" rx="4" ry="2" fill="#3c3c3c" fill-opacity="0.8"/>
<ellipse cx="52" cy="37" rx="4" ry="2" fill="#3c3c3c" fill-opacity="0.8"/>
<rect x="55.50" y="35.00" width="1.00" height="3.00" fill="#cfcfcf"/>
<ellipse cx="60" cy="37" rx="4" ry="2" fill="#3c3c3c" fill-opacity="0.8"/>
<rect x="63.50" y="35.00" width="1.00" height="3.00" fill="#cfcfcf"/>
<ellipse cx="68" cy="37" rx="4" ry="2" fill="#3c3c3c" fill-opacity="0.8"/>
<ellipse cx="76" cy="37" rx="4" ry="2" fill="#3c3c3c" fill-opacity="0.8"/>
<rect x="79.50" y="35.00" width="1.00" height="3.00" fill="#cfcfcf"/>
<ellipse cx="84" cy="37" rx="4" ry="2" fill="#3c3c3c" fill-opacity="0.8"/>
<rect x="87.50" y="35.00" width="1.00" height="3.00" fill="#cfcfcf"/>
<ellipse cx="92" cy="37" rx="4" ry="2" fill="#3c3c3c" fill-opacity="0.8"/>
<rect x="95.50" y="35.00" width="1.00" height="3.00" fill="#cfcfcf"/>
<polygon points="0.00,0.00 13.00,0.00 0.00,14.00" fill="#aebdcc" stroke="none" stroke-width="1"/>
<polygon points="12.00,0.00 31.00,0.00 56.00,37.70 38.00,37.70" fill="#dcb49c" stroke="none" stroke-width="1"/>
<polygon points="17.00,2.00 28.00,2.00 50.00,35.70 42.00,35.70" fill="#ecd0bd" stroke="none" stroke-width="1" fill-opacity="0.6"/>
</svg>
<svg x="479.3" y="615.9" width="85" height="38.1" overflow="hidden">
<rect x="0.00" y="0.00" width="85.00" height="38.10" fill="#141414"/>
<ellipse cx="0" cy="2" rx="4" ry="2" fill="#3c3c3c" fill-opacity="0.8"/>
<rect x="3.50" y="0.00" width="1.00" height="3.00" fill="#cfcfcf"/>
<ellipse cx="8" cy="2" rx="4" ry="2" fill="#3c3c3c" fill-opacity="0.8"/>
<ellipse cx="16" cy="2" rx="4" ry="2" fill="#3c3c3c" fill-opacity="0.8"/>
<ellipse cx="24" cy="2" rx="4" ry="2" fill="#3c3c3c" fill-opacity="0.8"/>
<rect x="27.50" y="0.00" width="1.00" height="3.00" fill="#cfcfcf"/>
<ellipse cx="32" cy="2" rx="4" ry="2" fill="#3c3c3c" fill-opacity="0.8"/>
<rect x="35.50" y="0.00" width="1.00" height="3.00" fill="#cfcfcf"/>
<ellipse cx="40" cy="2" rx="4" ry="2" fill="#3c3c3c" fill-opacity="0.8"/>
<rect x="43.50" y="0.00" width="1.00" height="3.00" fill="#cfcfcf"/>
<ellipse cx="48" cy="2" rx="4" ry="2" fill="#3c3c3c" fill-opacity="0.8"/>
<rect x="51.50" y="0.00" width="1.00" height="3.00" fill="#cfcfcf"/>
<ellipse cx="56" cy="2" rx="4" ry="2" fill="#3c3c3c" fill-opacity="0.8"/>
<ellipse cx="64" cy="2" rx="4" ry="2" fill="#3c3c3c" fill-opacity="0.8"/>
<ellipse cx="72" cy="2" rx="4" ry="2" fill="#3c3c3c" fill-opacity="0.8"/>
<ellipse cx="80" cy="2" rx="4" ry="2" fill="#3c3c3c" fill-opacity="0.8"/>
<rect x="83.50" y="0.00" width="1.00" height="3.00" fill="#cfcfcf"/>
<ellipse cx="88" cy="2" rx="4" ry="2" fill="#3c3c3c" fill-opacity="0.8"/>
<ellipse cx="4" cy="7" rx="4" ry="2" fill="#3c3c3c" fill-opacity="0.8"/>
<rect x="7.50" y="5.00" width="1.00" height="3.00" fill="#cfcfcf"/>
<ellipse cx="12" cy="7" rx="4" ry="2" fill="#3c3c3c" fill-opacity="0.8"/>
<rect x="15.50" y="5.00" width="1.00" height="3.00" fill="#cfcfcf"/>
<ellipse cx="20" cy="7" rx="4" ry="2" fill="#3c3c3c" fill-opacity="0.8"/>
<rect x="23.50" y="5.00" width="1.00" height="3.00" fill="#cfcfcf"/>
<ellipse cx="28" cy="7" rx="4" ry="2" fill="#3c3c3c" fill-opacity="0.8"/>
<ellipse cx="36" cy="7" rx="4" ry="2" fill="#3c3c3c" fill-opacity="0.8"/>
<rect x="39.50" y="5.00" width="1.00" height="3.00" fill="#cfcfcf"/>
<ellipse cx="44" cy="7" rx="4" ry="2" fill="#3c3c3c" fill-opacity="0.8"/>
<ellipse cx="52" cy="7" rx="4" ry="2" fill="#3c3c3c" fill-opacity="0.8"/>
<rect x="55.50" y="5.00" width="1.00" height="3.00" fill="#cfcfcf"/>
<ellipse cx="60" cy="7" rx="4" ry="2" fill="#3c3c3c" fill-opacity="0.8"/>
<ellipse cx="68" cy="7" rx="4" ry="2" fill="#3c3c3c" fill-opacity="0.8"/>
<rect x="71.50" y="5.00" width="1.00" height="3.00" fill="#cfcfcf"/>
<ellipse cx="76" cy="7" rx="4" ry="2" fill="#3c3c3c" fill-opacity="0.8"/>
<rect x="79.50" y="5.00" width="1.00" height="3.00" fill="#cfcfcf"/>
<ellipse cx="84" cy="7" rx="4" ry="2" fill="#3c3c3c" fill-opacity="0.8"/>
<ellipse cx="92" cy="7" rx="4" ry="2" fill="#3c3c3c" fill-opacity="0.8"/>
<rect x="95.50" y="5.00" width="1.00" height="3.00" fill="#cfcfcf"/>
<ellipse cx="0" cy="12" rx="4" ry="2" fill="#3c3c3c" fill-opacity="0.8"/>
<rect x="3.50" y="10.00" width="1.00" height="3.00" fill="#cfcfcf"/>
<ellipse cx="8" cy="12" rx="4" ry="2" fill="#3c3c3c" fill-opacity="0.8"/>
<ellipse cx="16" cy="12" rx="4" ry="2" fill="#3c3c3c" fill-opacity="0.8"/>
<rect x="19.50" y="10.00" width="1.00" height="3.00" fill="#cfcfcf"/>
<ellipse cx="24" cy="12" rx="4" ry="2" fill="#3c3c3c" fill-opacity="0.8"/>
<rect x="27.50" y="10.00" width="1.00" height="3.00" fill="#cfcfcf"/>
<ellipse cx="32" cy="12" rx="4" ry="2" fill="#3c3c3c" fill-opacity="0.8"/>
<ellipse cx="40" cy="12" rx="4" ry="2" fill="#3c3c3c" fill-opacity="0.8"/>
<ellipse cx="48" cy="12" rx="4" ry="2" fill="#3c3c3c" fill-opacity="0.8"/>
<rect x="51.50" y="10.00" width="1.00" height="3.00" fill="#cfcfcf"/>
<ellipse cx="56" cy="12" rx="4" ry="2" fill="#3c3c3c" fill-opacity="0.8"/>
<rect x="59.50" y="10.00" width="1.00" height="3.00" fill="#cfcfcf"/>
<ellipse cx="64" cy="12" rx="4" ry="2" fill="#3c3c3c" fill-opacity="0.8"/>
<rect x="67.50" y="10.00" width="1.00" height="3.00" fill="#cfcfcf"/>
<ellipse cx="72" cy="12" rx="4" ry="2" fill="#3c3c3c" fill-opacity="0.8"/>
<rect x="75.50" y="10.00" width="1.00" height="3.00" fill="#cfcfcf"/>
<ellipse cx="80" cy="12" rx="4" ry="2" fill="#3c3c3c" fill-opacity="0.8"/>
<ellipse cx="88" cy="12" rx="4" ry="2" fill="#3c3c3c" fill-opacity="0.8"/>
<rect x="91.50" y="10.00" width="1.00" height="3.00" fill="#cfcfcf"/>
<ellipse cx="4" cy="17" rx="4" ry="2" fill="#3c3c3c" fill-opacity="0.8"/>
<ellipse cx="12" cy="17" rx="4" ry="2" fill="#3c3c3c" fill-opacity="0.8"/>
<rect x="15.50" y="15.00" width="1.00" height="3.00" fill="#cfcfcf"/>
<ellipse cx="20" cy="17" rx="4" ry="2" fill="#3c3c3c" fill-opacity="0.8"/>
<rect x="23.50" y="15.00" width="1.00" height="3.00" fill="#cfcfcf"/>
<ellipse cx="28" cy="17" rx="4" ry="2" fill="#3c3c3c" fill-opacity="0.8"/>
<ellipse cx="36" cy="17" rx="4" ry="2" fill="#3c3c3c" fill-opacity="0.8"/>
<rect x="39.50" y="15.00" width="1.00" height="3.00" fill="#cfcfcf"/>
<ellipse cx="44" cy="17" rx="4" ry="2" fill="#3c3c3c" fill-opacity="0.8"/>
<rect x="47.50" y="15.00" width="1.00" height="3.00" fill="#cfcfcf"/>
<ellipse cx="52" cy="17" rx="4" ry="2" fill="#3c3c3c" fill-opacity="0.8"/>
<rect x="55.50" y="15.00" width="1.00" height="3.00" fill="#cfcfcf"/>
<ellipse cx="60" cy="17" rx="4" ry="2" fill="#3c3c3c" fill-opacity="0.8"/>
<rect x="63.50" y="15.00" width="1.00" height="3.00" fill="#cfcfcf"/>
<ellipse cx="68" cy="17" rx="4" ry="2" fill="#3c3c3c" fill-opacity="0.8"/>
<rect x="71.50" y="15.00" width="1.00" height="3.00" fill="#cfcfcf"/>
<ellipse cx="76" cy="17" rx="4" ry="2" fill="#3c3c3c" fill-opacity="0.8"/>
<rect x="79.50" y="15.00" width="1.00" height="3.00" fill="#cfcfcf"/>
<ellipse cx="84" cy="17" rx="4" ry="2" fill="#3c3c3c" fill-opacity="0.8"/>
<ellipse cx="92" cy="17" rx="4" ry="2" fill="#3c3c3c" fill-opacity="0.8"/>
<ellipse cx="0" cy="22" rx="4" ry="2" fill="#3c3c3c" fill-opacity="0.8"/>
<ellipse cx="8" cy="22" rx="4" ry="2" fill="#3c3c3c" fill-opacity="0.8"/>
<ellipse cx="16" cy="22" rx="4" ry="2" fill="#3c3c3c" fill-opacity="0.8"/>
<rect x="19.50" y="20.00" width="1.00" height="3.00" fill="#cfcfcf"/>
<ellipse cx="24" cy="22" rx="4" ry="2" fill="#3c3c3c" fill-opacity="0.8"/>
<rect x="27.50" y="20.00" width="1.00" height="3.00" fill="#cfcfcf"/>
<ellipse cx="32" cy="22" rx="4" ry="2" fill="#3c3c3c" fill-opacity="0.8"/>
<ellipse cx="40" cy="22" rx="4" ry="2" fill="#3c3c3c" fill-opacity="0.8"/>
<ellipse cx="48" cy="22" rx="4" ry="2" fill="#3c3c3c" fill-opacity="0.8"/>
<rect x="51.50" y="20.00" width="1.00" height="3.00" fill="#cfcfcf"/>
<ellipse cx="56" cy="22" rx="4" ry="2" fill="#3c3c3c" fill-opacity="0.8"/>
<rect x="59.50" y="20.00" width="1.00" height="3.00" fill="#cfcfcf"/>
<ellipse cx="64" cy="22" rx="4" ry="2" fill="#3c3c3c" fill-opacity="0.8"/>
<rect x="67.50" y="20.00" width="1.00" height="3.00" fill="#cfcfcf"/>
<ellipse cx="72" cy="22" rx="4" ry="2" fill="#3c3c3c" fill-opacity="0.8"/>
<rect x="75.50" y="20.00" width="1.00" height="3.00" fill="#cfcfcf"/>
<ellipse cx="80" cy="22" rx="4" ry="2" fill="#3c3c3c" fill-opacity="0.8"/>
<ellipse cx="88" cy="22" rx="4" ry="2" fill="#3c3c3c" fill-opacity="0.8"/>
<rect x="91.50" y="20.00" width="1.00" height="3.00" fill="#cfcfcf"/>
<ellipse cx="4" cy="27" rx="4" ry="2" fill="#3c3c3c" fill-opacity="0.8"/>
<rect x="7.50" y="25.00" width="1.00" height="3.00" fill="#cfcfcf"/>
<ellipse cx="12" cy="27" rx="4" ry="2" fill="#3c3c3c" fill-opacity="0.8"/>
<ellipse cx="20" cy="27" rx="4" ry="2" fill="#3c3c3c" fill-opacity="0.8"/>
<rect x="23.50" y="25.00" width="1.00" height="3.00" fill="#cfcfcf"/>
<ellipse cx="28" cy="27" rx="4" ry="2" fill="#3c3c3c" fill-opacity="0.8"/>
<rect x="31.50" y="25.00" width="1.00" height="3.00" fill="#cfcfcf"/>
<ellipse cx="36" cy="27" rx="4" ry="2" fill="#3c3c3c" fill-opacity="0.8"/>
<rect x="39.50" y="25.00" width="1.00" height="3.00" fill="#cfcfcf"/>
<ellipse cx="44" cy="27" rx="4" ry="2" fill="#3c3c3c" fill-opacity="0.8"/>
<rect x="47.50" y="25.00" width="1.00" height="3.00" fill="#cfcfcf"/>
<ellipse cx="52" cy="27" rx="4" ry="2" fill="#3c3c3c" fill-opacity="0.8"/>
<rect x="55.50" y="25.00" width="1.00" height="3.00" fill="#cfcfcf"/>
<ellipse cx="60" cy="27" rx="4" ry="2" fill="#3c3c3c" fill-opacity="0.8"/>
<ellipse cx="68" cy="27" rx="4" ry="2" fill="#3c3c3c" fill-opacity="0.8"/>
<rect x="71.50" y="25.00" width="1.00" height="3.00" fill="#cfcfcf"/>
<ellipse cx="76" cy="27" rx="4" ry="2" fill="#3c3c3c" fill-opacity="0.8"/>
<rect x="79.50" y="25.00" width="1.00" height="3.00" fill="#cfcfcf"/>
<ellipse cx="84" cy="27" rx="4" ry="2" fill="#3c3c3c" fill-opacity="0.8"/>
<rect x="87.50" y="25.00" width="1.00" height="3.00" fill="#cfcfcf"/>
<ellipse cx="92" cy="27" rx="4" ry="2" fill="#3c3c3c" fill-opacity="0.8"/>
<ellipse cx="0" cy="32" rx="4" ry="2" fill="#3c3c3c" fill-opacity="0.8"/>
<rect x="3.50" y="30.00" width="1.00" height="3.00" fill="#cfcfcf"/>
<ellipse cx="8" cy="32" rx="4" ry="2" fill="#3c3c3c" fill-opacity="0.8"/>
<rect x="11.50" y="30.00" width="1.00" height="3.00" fill="#cfcfcf"/>
<ellipse cx="16" cy="32" rx="4" ry="2" fill="#3c3c3c" fill-opacity="0.8"/>
<rect x="19.50" y="30.00" width="1.00" height="3.00" fill="#cfcfcf"/>
<ellipse cx="24" cy="32" rx="4" ry="2" fill="#3c3c3c" fill-opacity="0.8"/>
<ellipse cx="32" cy="32" rx="4" ry="2" fill="#3c3c3c" fill-opacity="0.8"/>
<rect x="35.50" y="30.00" width="1.00" height="3.00" fill="#cfcfcf"/>
<ellipse cx="40" cy="32" rx="4" ry="2" fill="#3c3c3c" fill-opacity="0.8"/>
<rect x="43.50" y="30.00" width="1.00" height="3.00" fill="#cfcfcf"/>
<ellipse cx="48" cy="32" rx="4" ry="2" fill="#3c3c3c" fill-opacity="0.8"/>
<rect x="51.50" y="30.00" width="1.00" height="3.00" fill="#cfcfcf"/>
<ellipse cx="56" cy="32" rx="4" ry="2" fill="#3c3c3c" fill-opacity="0.8"/>
<rect x="59.50" y="30.00" width="1.00" height="3.00" fill="#cfcfcf"/>
<ellipse cx="64" cy="32" rx="4" ry="2" fill="#3c3c3c" fill-opacity="0.8"/>
<rect x="67.50" y="30.00" width="1.00" height="3.00" fill="#cfcfcf"/>
<ellipse cx="72" cy="32" rx="4" ry="2" fill="#3c3c3c" fill-opacity="0.8"/>
<ellipse cx="80" cy="32" rx="4" ry="2" fill="#3c3c3c" fill-opacity="0.8"/>
<rect x="83.50" y="30.00" width="1.00" height="3.00" fill="#cfcfcf"/>
<ellipse cx="88" cy="32" rx="4" ry="2" fill="#3c3c3c" fill-opacity="0.8"/>
<ellipse cx="4" cy="37" rx="4" ry="2" fill="#3c3c3c" fill-opacity="0.8"/>
<rect x="7.50" y="35.00" width="1.00" height="3.00" fill="#cfcfcf"/>
<ellipse cx="12" cy="37" rx="4" ry="2" fill="#3c3c3c" fill-opacity="0.8"/>
<ellipse cx="20" cy="37" rx="4" ry="2" fill="#3c3c3c" fill-opacity="0.8"/>
<rect x="23.50" y="35.00" width="1.00" height="3.00" fill="#cfcfcf"/>
<ellipse cx="28" cy="37" rx="4" ry="2" fill="#3c3c3c" fill-opacity="0.8"/>
<rect x="31.50" y="35.00" width="1.00" height="3.00" fill="#cfcfcf"/>
<ellipse cx="36" cy="37" rx="4" ry="2" fill="#3c3c3c" fill-opacity="0.8"/>
<ellipse cx="44" cy="37" rx="4" ry="2" fill="#3c3c3c" fill-opacity="0.8"/>
<ellipse cx="52" cy="37" rx="4" ry="2" fill="#3c3c3c" fill-opacity="0.8"/>
<rect x="55.50" y="35.00" width="1.00" height="3.00" fill="#cfcfcf"/>
<ellipse cx="60" cy="37" rx="4" ry="2" fill="#3c3c3c" fill-opacity="0.8"/>
<rect x="63.50" y="35.00" width="1.00" height="3.00" fill="#cfcfcf"/>
<ellipse cx="68" cy="37" rx="4" ry="2" fill="#3c3c3c" fill-opacity="0.8"/>
<ellipse cx="76" cy="37" rx="4" ry="2" fill="#3c3c3c" fill-opacity="0.8"/>
<rect x="79.50" y="35.00" width="1.00" height="3.00" fill="#cfcfcf"/>
<ellipse cx="84" cy="37" rx="4" ry="2" fill="#3c3c3c" fill-opacity="0.8"/>
<rect x="87.50" y="35.00" width="1.00" height="3.00" fill="#cfcfcf"/>
<ellipse cx="92" cy="37" rx="4" ry="2" fill="#3c3c3c" fill-opacity="0.8"/>
<rect x="95.50" y="35.00" width="1.00" height="3.00" fill="#cfcfcf"/>
<polygon points="77.00,0.00 85.00,0.00 85.00,38.10 81.00,38.10" fill="#a7b4c0" stroke="none" stroke-width="1"/>
<polygon points="31.00,38.10 51.00,38.10 83.00,12.00 83.00,0.00 73.00,0.00" fill="#dcb49b" stroke="none" stroke-width="1"/>
</svg>
<text x="585.4" y="495.6" font-size="19.5" font-weight="bold" textLength="5.4" lengthAdjust="spacingAndGlyphs" fill="#111" stroke="#111" stroke-width="0.28">I</text>
<polyline points="648.00,654.90 685.33,654.90 722.65,654.90 759.97,654.28 797.30,653.65" fill="none" stroke="#e0455a" stroke-width="0.8" stroke-dasharray="3.5,2.5" stroke-opacity="0.85"/>
<rect x="646.40" y="653.30" width="3.20" height="3.20" fill="#e0455a"/>
<rect x="683.73" y="653.30" width="3.20" height="3.20" fill="#e0455a"/>
<rect x="721.05" y="653.30" width="3.20" height="3.20" fill="#e0455a"/>
<rect x="758.37" y="652.68" width="3.20" height="3.20" fill="#e0455a"/>
<rect x="795.70" y="652.05" width="3.20" height="3.20" fill="#e0455a"/>
<polyline points="648.00,651.16 685.33,649.91 722.65,646.79 759.97,632.44 797.30,624.32" fill="none" stroke="#3d5c8a" stroke-width="0.8" stroke-dasharray="3.5,2.5" stroke-opacity="0.85"/>
<circle cx="648.0" cy="651.2" r="1.9" fill="#3d5c8a"/>
<circle cx="685.3" cy="649.9" r="1.9" fill="#3d5c8a"/>
<circle cx="722.6" cy="646.8" r="1.9" fill="#3d5c8a"/>
<circle cx="760.0" cy="632.4" r="1.9" fill="#3d5c8a"/>
<circle cx="797.3" cy="624.3" r="1.9" fill="#3d5c8a"/>
<polyline points="648.00,637.43 685.33,627.44 722.65,619.96 759.97,591.25 797.30,556.31" fill="none" stroke="#f0d850" stroke-width="0.8" stroke-dasharray="3.5,2.5" stroke-opacity="0.85"/>
<polygon points="645.80,639.03 650.20,639.03 648.00,635.23" fill="#f0d850" stroke="none" stroke-width="1"/>
<polygon points="683.12,629.04 687.53,629.04 685.33,625.24" fill="#f0d850" stroke="none" stroke-width="1"/>
<polygon points="720.45,621.56 724.85,621.56 722.65,617.76" fill="#f0d850" stroke="none" stroke-width="1"/>
<polygon points="757.77,592.85 762.17,592.85 759.97,589.05" fill="#f0d850" stroke="none" stroke-width="1"/>
<polygon points="795.10,557.91 799.50,557.91 797.30,554.11" fill="#f0d850" stroke="none" stroke-width="1"/>
<polyline points="648.00,621.20 685.33,611.22 722.65,590.00 759.97,561.30 797.30,530.10" fill="none" stroke="#4aa9a6" stroke-width="0.8" stroke-dasharray="3.5,2.5" stroke-opacity="0.85"/>
<polygon points="645.80,619.60 650.20,619.60 648.00,623.40" fill="#4aa9a6" stroke="none" stroke-width="1"/>
<polygon points="683.12,609.62 687.53,609.62 685.33,613.42" fill="#4aa9a6" stroke="none" stroke-width="1"/>
<polygon points="720.45,588.40 724.85,588.40 722.65,592.20" fill="#4aa9a6" stroke="none" stroke-width="1"/>
<polygon points="757.77,559.70 762.17,559.70 759.97,563.50" fill="#4aa9a6" stroke="none" stroke-width="1"/>
<polygon points="795.10,528.50 799.50,528.50 797.30,532.30" fill="#4aa9a6" stroke="none" stroke-width="1"/>
<svg x="671.1" y="556" width="79.7" height="25.9" overflow="hidden">
<rect x="0.00" y="0.00" width="79.70" height="25.90" fill="#8c8c8c"/>
<rect x="40.00" y="0.00" width="40.00" height="8.00" fill="#9c9c9c"/>
<path d="M0,4 Q20,1 40,4 Q62,6 74,10 Q80,14 76,19 Q66,22 50,21 Q30,23 15,22 Q5,21 0,20 Z" fill="#262626" stroke="none" stroke-width="1"/>
<ellipse cx="4.0" cy="11" rx="6" ry="5" fill="#3a3a3a" transform="rotate(-30 4.0 12)"/>
<ellipse cx="12.5" cy="13" rx="6" ry="5" fill="#3a3a3a" transform="rotate(-30 12.5 12)"/>
<ellipse cx="21.0" cy="11" rx="6" ry="5" fill="#3a3a3a" transform="rotate(-30 21.0 12)"/>
<ellipse cx="29.5" cy="13" rx="6" ry="5" fill="#3a3a3a" transform="rotate(-30 29.5 12)"/>
<ellipse cx="38.0" cy="11" rx="6" ry="5" fill="#3a3a3a" transform="rotate(-30 38.0 12)"/>
<ellipse cx="46.5" cy="13" rx="6" ry="5" fill="#3a3a3a" transform="rotate(-30 46.5 12)"/>
<ellipse cx="55.0" cy="11" rx="6" ry="5" fill="#3a3a3a" transform="rotate(-30 55.0 12)"/>
<ellipse cx="63.5" cy="13" rx="6" ry="5" fill="#3a3a3a" transform="rotate(-30 63.5 12)"/>
<ellipse cx="72.0" cy="11" rx="6" ry="5" fill="#3a3a3a" transform="rotate(-30 72.0 12)"/>
<path d="M5,14 Q9,20 13,26" fill="none" stroke="#d9d6cf" stroke-width="2.2"/>
<path d="M29,0 Q33,8 32,14" fill="none" stroke="#d9d6cf" stroke-width="2.2"/>
<path d="M33,19 L33,26" fill="none" stroke="#d9d6cf" stroke-width="2.2"/>
<path d="M46,14 L47,26" fill="none" stroke="#d9d6cf" stroke-width="2.2"/>
<path d="M54,6 Q64,3 69,13" fill="none" stroke="#d9d6cf" stroke-width="2.2"/>
</svg>
<svg x="745.2" y="596.2" width="46.8" height="31.9" overflow="hidden">
<rect x="0.00" y="0.00" width="46.80" height="31.90" fill="#7c7c7c"/>
<path d="M0,3 Q14,0 30,5 Q44,10 46,20 L46,31.9 L6,31.9 Q0,24 0,18 Z" fill="#1c1c1c" stroke="none" stroke-width="1"/>
<ellipse cx="3" cy="6" rx="4.5" ry="3" fill="#333" transform="rotate(25 3 6)"/>
<ellipse cx="12" cy="6" rx="4.5" ry="3" fill="#333" transform="rotate(25 12 6)"/>
<ellipse cx="21" cy="6" rx="4.5" ry="3" fill="#333" transform="rotate(25 21 6)"/>
<ellipse cx="30" cy="6" rx="4.5" ry="3" fill="#333" transform="rotate(25 30 6)"/>
<ellipse cx="39" cy="6" rx="4.5" ry="3" fill="#333" transform="rotate(25 39 6)"/>
<ellipse cx="7" cy="13" rx="4.5" ry="3" fill="#333" transform="rotate(25 7 13)"/>
<ellipse cx="16" cy="13" rx="4.5" ry="3" fill="#333" transform="rotate(25 16 13)"/>
<ellipse cx="25" cy="13" rx="4.5" ry="3" fill="#333" transform="rotate(25 25 13)"/>
<ellipse cx="34" cy="13" rx="4.5" ry="3" fill="#333" transform="rotate(25 34 13)"/>
<ellipse cx="43" cy="13" rx="4.5" ry="3" fill="#333" transform="rotate(25 43 13)"/>
<ellipse cx="3" cy="20" rx="4.5" ry="3" fill="#333" transform="rotate(25 3 20)"/>
<ellipse cx="12" cy="20" rx="4.5" ry="3" fill="#333" transform="rotate(25 12 20)"/>
<ellipse cx="21" cy="20" rx="4.5" ry="3" fill="#333" transform="rotate(25 21 20)"/>
<ellipse cx="30" cy="20" rx="4.5" ry="3" fill="#333" transform="rotate(25 30 20)"/>
<ellipse cx="39" cy="20" rx="4.5" ry="3" fill="#333" transform="rotate(25 39 20)"/>
<ellipse cx="7" cy="27" rx="4.5" ry="3" fill="#333" transform="rotate(25 7 27)"/>
<ellipse cx="16" cy="27" rx="4.5" ry="3" fill="#333" transform="rotate(25 16 27)"/>
<ellipse cx="25" cy="27" rx="4.5" ry="3" fill="#333" transform="rotate(25 25 27)"/>
<ellipse cx="34" cy="27" rx="4.5" ry="3" fill="#333" transform="rotate(25 34 27)"/>
<ellipse cx="43" cy="27" rx="4.5" ry="3" fill="#333" transform="rotate(25 43 27)"/>
<rect x="7.00" y="10.00" width="1.40" height="3.50" fill="#d8d8d8"/>
<rect x="15.00" y="5.00" width="1.40" height="3.50" fill="#d8d8d8"/>
<rect x="24.00" y="14.00" width="1.40" height="3.50" fill="#d8d8d8"/>
<rect x="30.00" y="9.00" width="1.40" height="3.50" fill="#d8d8d8"/>
<rect x="11.00" y="19.00" width="1.40" height="3.50" fill="#d8d8d8"/>
<rect x="20.00" y="23.00" width="1.40" height="3.50" fill="#d8d8d8"/>
<rect x="33.00" y="20.00" width="1.40" height="3.50" fill="#d8d8d8"/>
<rect x="38.00" y="14.00" width="1.40" height="3.50" fill="#d8d8d8"/>
<rect x="27.00" y="28.00" width="1.40" height="3.50" fill="#d8d8d8"/>
</svg>
<rect x="629.5" y="517.4" width="186.5" height="150.60000000000002" fill="none" stroke="#111" stroke-width="1.3"/>
<line x1="629.50" y1="654.90" x2="633.00" y2="654.90" stroke="#111" stroke-width="1"/>
<line x1="816.00" y1="654.90" x2="812.50" y2="654.90" stroke="#111" stroke-width="1"/>
<line x1="629.50" y1="642.42" x2="631.50" y2="642.42" stroke="#111" stroke-width="1"/>
<line x1="816.00" y1="642.42" x2="814.00" y2="642.42" stroke="#111" stroke-width="1"/>
<line x1="629.50" y1="629.94" x2="633.00" y2="629.94" stroke="#111" stroke-width="1"/>
<line x1="816.00" y1="629.94" x2="812.50" y2="629.94" stroke="#111" stroke-width="1"/>
<line x1="629.50" y1="617.46" x2="631.50" y2="617.46" stroke="#111" stroke-width="1"/>
<line x1="816.00" y1="617.46" x2="814.00" y2="617.46" stroke="#111" stroke-width="1"/>
<line x1="629.50" y1="604.98" x2="633.00" y2="604.98" stroke="#111" stroke-width="1"/>
<line x1="816.00" y1="604.98" x2="812.50" y2="604.98" stroke="#111" stroke-width="1"/>
<line x1="629.50" y1="592.50" x2="631.50" y2="592.50" stroke="#111" stroke-width="1"/>
<line x1="816.00" y1="592.50" x2="814.00" y2="592.50" stroke="#111" stroke-width="1"/>
<line x1="629.50" y1="580.02" x2="633.00" y2="580.02" stroke="#111" stroke-width="1"/>
<line x1="816.00" y1="580.02" x2="812.50" y2="580.02" stroke="#111" stroke-width="1"/>
<line x1="629.50" y1="567.54" x2="631.50" y2="567.54" stroke="#111" stroke-width="1"/>
<line x1="816.00" y1="567.54" x2="814.00" y2="567.54" stroke="#111" stroke-width="1"/>
<line x1="629.50" y1="555.06" x2="633.00" y2="555.06" stroke="#111" stroke-width="1"/>
<line x1="816.00" y1="555.06" x2="812.50" y2="555.06" stroke="#111" stroke-width="1"/>
<line x1="629.50" y1="542.58" x2="631.50" y2="542.58" stroke="#111" stroke-width="1"/>
<line x1="816.00" y1="542.58" x2="814.00" y2="542.58" stroke="#111" stroke-width="1"/>
<line x1="629.50" y1="530.10" x2="633.00" y2="530.10" stroke="#111" stroke-width="1"/>
<line x1="816.00" y1="530.10" x2="812.50" y2="530.10" stroke="#111" stroke-width="1"/>
<line x1="648.00" y1="668.00" x2="648.00" y2="664.50" stroke="#111" stroke-width="1"/>
<line x1="648.00" y1="517.40" x2="648.00" y2="520.90" stroke="#111" stroke-width="1"/>
<line x1="666.66" y1="668.00" x2="666.66" y2="666.00" stroke="#111" stroke-width="1"/>
<line x1="666.66" y1="517.40" x2="666.66" y2="519.40" stroke="#111" stroke-width="1"/>
<line x1="685.33" y1="668.00" x2="685.33" y2="664.50" stroke="#111" stroke-width="1"/>
<line x1="685.33" y1="517.40" x2="685.33" y2="520.90" stroke="#111" stroke-width="1"/>
<line x1="703.99" y1="668.00" x2="703.99" y2="666.00" stroke="#111" stroke-width="1"/>
<line x1="703.99" y1="517.40" x2="703.99" y2="519.40" stroke="#111" stroke-width="1"/>
<line x1="722.65" y1="668.00" x2="722.65" y2="664.50" stroke="#111" stroke-width="1"/>
<line x1="722.65" y1="517.40" x2="722.65" y2="520.90" stroke="#111" stroke-width="1"/>
<line x1="741.31" y1="668.00" x2="741.31" y2="666.00" stroke="#111" stroke-width="1"/>
<line x1="741.31" y1="517.40" x2="741.31" y2="519.40" stroke="#111" stroke-width="1"/>
<line x1="759.97" y1="668.00" x2="759.97" y2="664.50" stroke="#111" stroke-width="1"/>
<line x1="759.97" y1="517.40" x2="759.97" y2="520.90" stroke="#111" stroke-width="1"/>
<line x1="778.64" y1="668.00" x2="778.64" y2="666.00" stroke="#111" stroke-width="1"/>
<line x1="778.64" y1="517.40" x2="778.64" y2="519.40" stroke="#111" stroke-width="1"/>
<line x1="797.30" y1="668.00" x2="797.30" y2="664.50" stroke="#111" stroke-width="1"/>
<line x1="797.30" y1="517.40" x2="797.30" y2="520.90" stroke="#111" stroke-width="1"/>
<text x="625.3" y="660.5" font-size="16.6" text-anchor="end" fill="#111" stroke="#111" stroke-width="0.28">0.0</text>
<text x="625.3" y="635.54" font-size="16.6" text-anchor="end" fill="#111" stroke="#111" stroke-width="0.28">0.2</text>
<text x="625.3" y="610.58" font-size="16.6" text-anchor="end" fill="#111" stroke="#111" stroke-width="0.28">0.4</text>
<text x="625.3" y="585.62" font-size="16.6" text-anchor="end" fill="#111" stroke="#111" stroke-width="0.28">0.6</text>
<text x="625.3" y="560.66" font-size="16.6" text-anchor="end" fill="#111" stroke="#111" stroke-width="0.28">0.8</text>
<text x="625.3" y="535.7" font-size="16.6" text-anchor="end" fill="#111" stroke="#111" stroke-width="0.28">1.0</text>
<text x="648.0" y="684.6" font-size="15" text-anchor="middle" fill="#111" stroke="#111" stroke-width="0.28">1</text>
<text x="685.325" y="684.6" font-size="15" text-anchor="middle" fill="#111" stroke="#111" stroke-width="0.28">2</text>
<text x="722.65" y="684.6" font-size="15" text-anchor="middle" fill="#111" stroke="#111" stroke-width="0.28">3</text>
<text x="759.9749999999999" y="684.6" font-size="15" text-anchor="middle" fill="#111" stroke="#111" stroke-width="0.28">4</text>
<text x="797.3" y="684.6" font-size="15" text-anchor="middle" fill="#111" stroke="#111" stroke-width="0.28">5</text>
<text x="723" y="711.5" font-size="17.5" text-anchor="middle" fill="#111" stroke="#111" stroke-width="0.28">Rows</text>
<text transform="translate(596.6 641.2) rotate(-90)" font-size="17.1" fill="#111" stroke="#111" stroke-width="0.28">Current (mA)</text>
<polyline points="637.20,532.70 664.50,532.70" fill="none" stroke="#e0455a" stroke-width="0.8" stroke-dasharray="3,3" stroke-opacity="0.6"/>
<polyline points="687.00,532.70 716.00,532.70" fill="none" stroke="#3d5c8a" stroke-width="0.8" stroke-dasharray="3,3" stroke-opacity="0.6"/>
<polyline points="637.20,547.20 664.50,547.20" fill="none" stroke="#f0d850" stroke-width="0.8" stroke-dasharray="3,3" stroke-opacity="0.6"/>
<polyline points="687.00,547.20 716.00,547.20" fill="none" stroke="#4aa9a6" stroke-width="0.8" stroke-dasharray="3,3" stroke-opacity="0.6"/>
<rect x="649.50" y="531.20" width="3.00" height="3.00" fill="#e0455a"/>
<circle cx="702.4" cy="532.7" r="1.6" fill="#3d5c8a"/>
<polygon points="649.00,548.80 653.40,548.80 651.20,544.60" fill="#f0d850" stroke="none" stroke-width="1"/>
<polygon points="700.20,545.60 704.60,545.60 702.40,549.80" fill="#4aa9a6" stroke="none" stroke-width="1"/>
<text x="667.0" y="536.7" font-size="12.3" fill="#111" stroke="#111" stroke-width="0.28">4 V</text>
<text x="718.2" y="536.7" font-size="12.3" fill="#111" stroke="#111" stroke-width="0.28">6 V</text>
<text x="667.0" y="550.9" font-size="12.3" fill="#111" stroke="#111" stroke-width="0.28">8 V</text>
<text x="719.0" y="550.9" font-size="12.3" fill="#111" stroke="#111" stroke-width="0.28">10 V</text>
<rect x="638.8" y="578.3" width="26.5" height="26.7" fill="none" stroke="#222" stroke-width="1"/>
<line x1="652.60" y1="569.60" x2="652.60" y2="614.40" stroke="#222" stroke-width="1"/>
<polygon points="634.30,595.30 643.30,595.30 638.80,589.30" fill="#fff" stroke="#222" stroke-width="0.9"/>
<line x1="634.30" y1="589.30" x2="643.30" y2="589.30" stroke="#222" stroke-width="0.9"/>
<polygon points="648.10,595.30 657.10,595.30 652.60,589.30" fill="#fff" stroke="#222" stroke-width="0.9"/>
<line x1="648.10" y1="589.30" x2="657.10" y2="589.30" stroke="#222" stroke-width="0.9"/>
<polygon points="660.80,595.30 669.80,595.30 665.30,589.30" fill="#fff" stroke="#222" stroke-width="0.9"/>
<line x1="660.80" y1="589.30" x2="669.80" y2="589.30" stroke="#222" stroke-width="0.9"/>
</svg>
</body></html>
